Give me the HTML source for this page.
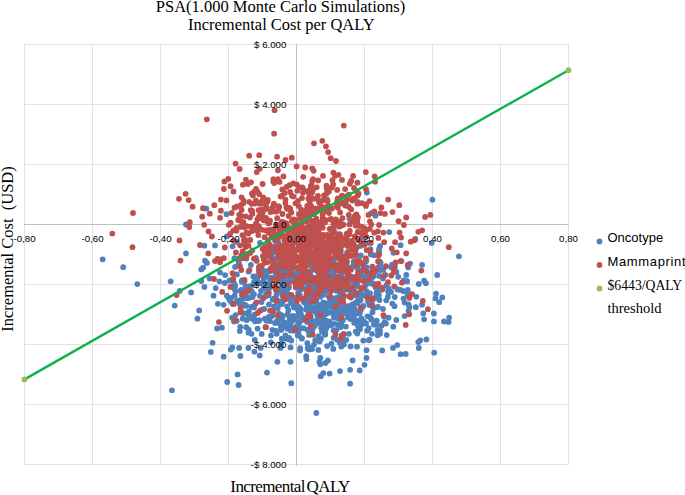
<!DOCTYPE html>
<html><head><meta charset="utf-8"><title>PSA Incremental Cost per QALY</title>
<style>html,body{margin:0;padding:0;background:#fff}svg{display:block}</style></head>
<body><svg width="685" height="495" viewBox="0 0 685 495">
<rect width="685" height="495" fill="#fff"/>
<g stroke="#e1e1e1" stroke-width="1" shape-rendering="crispEdges"><line x1="24.5" y1="44" x2="24.5" y2="465"/><line x1="92.5" y1="44" x2="92.5" y2="465"/><line x1="160.5" y1="44" x2="160.5" y2="465"/><line x1="228.5" y1="44" x2="228.5" y2="465"/><line x1="364.5" y1="44" x2="364.5" y2="465"/><line x1="432.5" y1="44" x2="432.5" y2="465"/><line x1="500.5" y1="44" x2="500.5" y2="465"/><line x1="568.5" y1="44" x2="568.5" y2="465"/><line x1="24" y1="44.5" x2="569" y2="44.5"/><line x1="24" y1="104.5" x2="569" y2="104.5"/><line x1="24" y1="164.5" x2="569" y2="164.5"/><line x1="24" y1="284.5" x2="569" y2="284.5"/><line x1="24" y1="344.5" x2="569" y2="344.5"/><line x1="24" y1="404.5" x2="569" y2="404.5"/><line x1="24" y1="464.5" x2="569" y2="464.5"/></g>
<g stroke="#c0c0c0" stroke-width="1" shape-rendering="crispEdges"><line x1="296.5" y1="44" x2="296.5" y2="466"/><line x1="24" y1="224.5" x2="569" y2="224.5"/></g>
<g fill="#4f81bd"><circle cx="257.8" cy="281.8" r="2.9"/><circle cx="266.4" cy="320.7" r="2.9"/><circle cx="368.0" cy="276.0" r="2.9"/><circle cx="293.2" cy="304.6" r="2.9"/><circle cx="326.2" cy="310.1" r="2.9"/><circle cx="248.9" cy="311.6" r="2.9"/><circle cx="278.8" cy="315.4" r="2.9"/><circle cx="338.6" cy="282.7" r="2.9"/><circle cx="351.4" cy="267.1" r="2.9"/><circle cx="282.8" cy="286.3" r="2.9"/><circle cx="280.7" cy="291.0" r="2.9"/><circle cx="276.1" cy="276.8" r="2.9"/><circle cx="312.4" cy="321.4" r="2.9"/><circle cx="302.5" cy="238.0" r="2.9"/><circle cx="407.1" cy="281.4" r="2.9"/><circle cx="248.4" cy="286.4" r="2.9"/><circle cx="321.4" cy="309.8" r="2.9"/><circle cx="371.5" cy="276.9" r="2.9"/><circle cx="240.2" cy="326.8" r="2.9"/><circle cx="309.1" cy="334.9" r="2.9"/><circle cx="354.6" cy="265.8" r="2.9"/><circle cx="318.1" cy="317.5" r="2.9"/><circle cx="360.4" cy="300.2" r="2.9"/><circle cx="292.1" cy="237.5" r="2.9"/><circle cx="307.8" cy="303.3" r="2.9"/><circle cx="343.1" cy="278.8" r="2.9"/><circle cx="280.0" cy="290.6" r="2.9"/><circle cx="266.0" cy="294.3" r="2.9"/><circle cx="281.9" cy="269.2" r="2.9"/><circle cx="404.6" cy="302.6" r="2.9"/><circle cx="357.1" cy="301.4" r="2.9"/><circle cx="321.0" cy="338.8" r="2.9"/><circle cx="323.2" cy="302.5" r="2.9"/><circle cx="357.9" cy="303.1" r="2.9"/><circle cx="235.6" cy="291.1" r="2.9"/><circle cx="230.2" cy="280.4" r="2.9"/><circle cx="339.0" cy="251.0" r="2.9"/><circle cx="334.7" cy="252.3" r="2.9"/><circle cx="355.0" cy="276.8" r="2.9"/><circle cx="282.9" cy="283.8" r="2.9"/><circle cx="277.4" cy="271.2" r="2.9"/><circle cx="327.5" cy="265.3" r="2.9"/><circle cx="333.0" cy="275.1" r="2.9"/><circle cx="295.8" cy="287.5" r="2.9"/><circle cx="325.2" cy="314.5" r="2.9"/><circle cx="251.5" cy="333.8" r="2.9"/><circle cx="287.0" cy="270.0" r="2.9"/><circle cx="336.5" cy="307.5" r="2.9"/><circle cx="339.3" cy="312.5" r="2.9"/><circle cx="332.4" cy="307.3" r="2.9"/><circle cx="377.3" cy="296.9" r="2.9"/><circle cx="330.7" cy="324.7" r="2.9"/><circle cx="324.3" cy="322.7" r="2.9"/><circle cx="321.6" cy="235.3" r="2.9"/><circle cx="285.1" cy="322.3" r="2.9"/><circle cx="400.7" cy="289.9" r="2.9"/><circle cx="352.9" cy="295.6" r="2.9"/><circle cx="303.7" cy="272.5" r="2.9"/><circle cx="278.0" cy="241.4" r="2.9"/><circle cx="376.7" cy="320.7" r="2.9"/><circle cx="357.6" cy="331.5" r="2.9"/><circle cx="308.1" cy="281.0" r="2.9"/><circle cx="297.4" cy="306.8" r="2.9"/><circle cx="355.3" cy="320.3" r="2.9"/><circle cx="268.8" cy="316.9" r="2.9"/><circle cx="291.2" cy="340.5" r="2.9"/><circle cx="358.1" cy="321.9" r="2.9"/><circle cx="275.1" cy="246.3" r="2.9"/><circle cx="307.2" cy="306.5" r="2.9"/><circle cx="363.3" cy="340.6" r="2.9"/><circle cx="379.5" cy="300.1" r="2.9"/><circle cx="235.2" cy="285.7" r="2.9"/><circle cx="328.8" cy="296.7" r="2.9"/><circle cx="337.2" cy="339.8" r="2.9"/><circle cx="287.3" cy="328.8" r="2.9"/><circle cx="288.4" cy="310.5" r="2.9"/><circle cx="299.9" cy="327.8" r="2.9"/><circle cx="339.9" cy="284.7" r="2.9"/><circle cx="291.3" cy="271.8" r="2.9"/><circle cx="341.3" cy="275.2" r="2.9"/><circle cx="357.3" cy="313.6" r="2.9"/><circle cx="271.1" cy="277.7" r="2.9"/><circle cx="317.6" cy="316.1" r="2.9"/><circle cx="307.1" cy="322.0" r="2.9"/><circle cx="312.5" cy="282.4" r="2.9"/><circle cx="274.0" cy="306.4" r="2.9"/><circle cx="315.4" cy="301.7" r="2.9"/><circle cx="270.0" cy="278.9" r="2.9"/><circle cx="287.2" cy="306.4" r="2.9"/><circle cx="258.4" cy="321.0" r="2.9"/><circle cx="324.9" cy="334.4" r="2.9"/><circle cx="265.5" cy="327.2" r="2.9"/><circle cx="339.8" cy="342.7" r="2.9"/><circle cx="266.8" cy="285.6" r="2.9"/><circle cx="304.6" cy="255.4" r="2.9"/><circle cx="310.8" cy="307.1" r="2.9"/><circle cx="374.7" cy="307.8" r="2.9"/><circle cx="403.5" cy="298.6" r="2.9"/><circle cx="371.1" cy="272.6" r="2.9"/><circle cx="337.6" cy="315.9" r="2.9"/><circle cx="287.0" cy="276.9" r="2.9"/><circle cx="348.9" cy="315.0" r="2.9"/><circle cx="308.3" cy="330.0" r="2.9"/><circle cx="263.8" cy="287.2" r="2.9"/><circle cx="307.6" cy="330.1" r="2.9"/><circle cx="366.1" cy="323.4" r="2.9"/><circle cx="325.6" cy="321.5" r="2.9"/><circle cx="323.4" cy="290.2" r="2.9"/><circle cx="293.8" cy="330.8" r="2.9"/><circle cx="271.0" cy="335.6" r="2.9"/><circle cx="396.4" cy="272.0" r="2.9"/><circle cx="325.4" cy="330.6" r="2.9"/><circle cx="286.1" cy="276.0" r="2.9"/><circle cx="375.2" cy="271.6" r="2.9"/><circle cx="246.8" cy="288.3" r="2.9"/><circle cx="244.4" cy="298.0" r="2.9"/><circle cx="386.5" cy="285.2" r="2.9"/><circle cx="322.3" cy="293.9" r="2.9"/><circle cx="272.6" cy="299.7" r="2.9"/><circle cx="251.9" cy="291.7" r="2.9"/><circle cx="393.3" cy="326.7" r="2.9"/><circle cx="336.1" cy="247.4" r="2.9"/><circle cx="384.5" cy="322.4" r="2.9"/><circle cx="306.8" cy="306.1" r="2.9"/><circle cx="283.1" cy="274.5" r="2.9"/><circle cx="282.8" cy="296.0" r="2.9"/><circle cx="251.0" cy="290.8" r="2.9"/><circle cx="317.3" cy="271.2" r="2.9"/><circle cx="403.8" cy="280.4" r="2.9"/><circle cx="359.8" cy="313.0" r="2.9"/><circle cx="385.3" cy="274.8" r="2.9"/><circle cx="361.1" cy="275.0" r="2.9"/><circle cx="330.8" cy="306.2" r="2.9"/><circle cx="278.5" cy="264.0" r="2.9"/><circle cx="264.2" cy="271.7" r="2.9"/><circle cx="275.9" cy="274.7" r="2.9"/><circle cx="323.8" cy="319.7" r="2.9"/><circle cx="318.6" cy="267.1" r="2.9"/><circle cx="373.1" cy="269.9" r="2.9"/><circle cx="321.1" cy="310.4" r="2.9"/><circle cx="334.8" cy="258.3" r="2.9"/><circle cx="281.8" cy="261.2" r="2.9"/><circle cx="379.5" cy="261.3" r="2.9"/><circle cx="367.7" cy="316.3" r="2.9"/><circle cx="302.3" cy="261.1" r="2.9"/><circle cx="357.6" cy="322.5" r="2.9"/><circle cx="339.7" cy="308.2" r="2.9"/><circle cx="276.5" cy="294.9" r="2.9"/><circle cx="297.8" cy="309.5" r="2.9"/><circle cx="283.9" cy="281.8" r="2.9"/><circle cx="326.3" cy="320.7" r="2.9"/><circle cx="292.5" cy="246.0" r="2.9"/><circle cx="315.9" cy="262.3" r="2.9"/><circle cx="318.4" cy="283.2" r="2.9"/><circle cx="320.3" cy="247.1" r="2.9"/><circle cx="324.3" cy="309.1" r="2.9"/><circle cx="363.9" cy="244.7" r="2.9"/><circle cx="266.8" cy="276.1" r="2.9"/><circle cx="319.2" cy="258.3" r="2.9"/><circle cx="299.0" cy="276.1" r="2.9"/><circle cx="276.7" cy="333.8" r="2.9"/><circle cx="326.7" cy="266.6" r="2.9"/><circle cx="376.4" cy="293.1" r="2.9"/><circle cx="296.7" cy="260.0" r="2.9"/><circle cx="335.9" cy="290.5" r="2.9"/><circle cx="257.5" cy="283.1" r="2.9"/><circle cx="245.4" cy="286.7" r="2.9"/><circle cx="392.3" cy="303.6" r="2.9"/><circle cx="283.4" cy="290.7" r="2.9"/><circle cx="319.9" cy="338.4" r="2.9"/><circle cx="379.1" cy="275.9" r="2.9"/><circle cx="331.7" cy="247.8" r="2.9"/><circle cx="382.6" cy="289.3" r="2.9"/><circle cx="317.7" cy="306.4" r="2.9"/><circle cx="287.2" cy="282.1" r="2.9"/><circle cx="295.7" cy="257.0" r="2.9"/><circle cx="333.7" cy="330.5" r="2.9"/><circle cx="357.0" cy="346.7" r="2.9"/><circle cx="325.2" cy="246.9" r="2.9"/><circle cx="346.2" cy="264.1" r="2.9"/><circle cx="334.0" cy="317.7" r="2.9"/><circle cx="313.7" cy="301.1" r="2.9"/><circle cx="371.4" cy="319.7" r="2.9"/><circle cx="327.8" cy="264.0" r="2.9"/><circle cx="249.9" cy="297.5" r="2.9"/><circle cx="313.1" cy="321.1" r="2.9"/><circle cx="340.2" cy="234.4" r="2.9"/><circle cx="261.7" cy="333.9" r="2.9"/><circle cx="275.8" cy="299.2" r="2.9"/><circle cx="246.2" cy="305.9" r="2.9"/><circle cx="340.8" cy="327.0" r="2.9"/><circle cx="253.8" cy="283.5" r="2.9"/><circle cx="308.8" cy="311.0" r="2.9"/><circle cx="276.6" cy="258.2" r="2.9"/><circle cx="260.7" cy="269.0" r="2.9"/><circle cx="299.0" cy="335.6" r="2.9"/><circle cx="272.7" cy="315.5" r="2.9"/><circle cx="234.3" cy="288.5" r="2.9"/><circle cx="338.0" cy="287.5" r="2.9"/><circle cx="368.1" cy="301.8" r="2.9"/><circle cx="369.3" cy="305.1" r="2.9"/><circle cx="342.9" cy="294.0" r="2.9"/><circle cx="264.9" cy="318.7" r="2.9"/><circle cx="335.8" cy="301.7" r="2.9"/><circle cx="359.5" cy="292.8" r="2.9"/><circle cx="347.2" cy="276.8" r="2.9"/><circle cx="386.7" cy="335.1" r="2.9"/><circle cx="248.5" cy="332.7" r="2.9"/><circle cx="277.0" cy="320.9" r="2.9"/><circle cx="279.7" cy="317.1" r="2.9"/><circle cx="339.6" cy="283.2" r="2.9"/><circle cx="356.6" cy="267.1" r="2.9"/><circle cx="262.2" cy="273.8" r="2.9"/><circle cx="313.6" cy="309.0" r="2.9"/><circle cx="293.3" cy="298.2" r="2.9"/><circle cx="281.2" cy="343.7" r="2.9"/><circle cx="327.0" cy="303.2" r="2.9"/><circle cx="299.1" cy="271.3" r="2.9"/><circle cx="315.2" cy="324.9" r="2.9"/><circle cx="297.6" cy="272.6" r="2.9"/><circle cx="284.3" cy="269.9" r="2.9"/><circle cx="310.3" cy="278.7" r="2.9"/><circle cx="339.8" cy="241.4" r="2.9"/><circle cx="372.5" cy="312.2" r="2.9"/><circle cx="375.6" cy="287.5" r="2.9"/><circle cx="339.9" cy="296.2" r="2.9"/><circle cx="308.8" cy="234.1" r="2.9"/><circle cx="358.7" cy="260.7" r="2.9"/><circle cx="324.3" cy="331.7" r="2.9"/><circle cx="329.4" cy="270.7" r="2.9"/><circle cx="336.2" cy="310.2" r="2.9"/><circle cx="297.3" cy="275.8" r="2.9"/><circle cx="317.3" cy="307.2" r="2.9"/><circle cx="313.2" cy="289.7" r="2.9"/><circle cx="343.9" cy="344.5" r="2.9"/><circle cx="293.2" cy="297.5" r="2.9"/><circle cx="319.3" cy="304.8" r="2.9"/><circle cx="365.9" cy="261.6" r="2.9"/><circle cx="340.3" cy="292.4" r="2.9"/><circle cx="339.7" cy="288.9" r="2.9"/><circle cx="320.8" cy="319.6" r="2.9"/><circle cx="311.0" cy="306.0" r="2.9"/><circle cx="367.2" cy="330.7" r="2.9"/><circle cx="373.9" cy="324.5" r="2.9"/><circle cx="342.1" cy="311.0" r="2.9"/><circle cx="321.5" cy="274.7" r="2.9"/><circle cx="312.6" cy="234.7" r="2.9"/><circle cx="378.0" cy="267.7" r="2.9"/><circle cx="316.3" cy="300.6" r="2.9"/><circle cx="375.9" cy="296.8" r="2.9"/><circle cx="264.2" cy="308.9" r="2.9"/><circle cx="234.7" cy="295.7" r="2.9"/><circle cx="330.9" cy="269.1" r="2.9"/><circle cx="370.0" cy="293.5" r="2.9"/><circle cx="355.3" cy="320.2" r="2.9"/><circle cx="232.5" cy="303.8" r="2.9"/><circle cx="312.2" cy="266.9" r="2.9"/><circle cx="340.2" cy="271.5" r="2.9"/><circle cx="363.8" cy="322.3" r="2.9"/><circle cx="289.2" cy="338.0" r="2.9"/><circle cx="326.8" cy="327.2" r="2.9"/><circle cx="259.9" cy="295.9" r="2.9"/><circle cx="268.2" cy="289.1" r="2.9"/><circle cx="360.4" cy="294.7" r="2.9"/><circle cx="300.3" cy="308.8" r="2.9"/><circle cx="307.9" cy="315.4" r="2.9"/><circle cx="305.1" cy="263.7" r="2.9"/><circle cx="331.1" cy="325.3" r="2.9"/><circle cx="340.8" cy="250.4" r="2.9"/><circle cx="240.4" cy="299.8" r="2.9"/><circle cx="276.0" cy="331.0" r="2.9"/><circle cx="242.0" cy="280.5" r="2.9"/><circle cx="374.7" cy="270.0" r="2.9"/><circle cx="329.8" cy="306.3" r="2.9"/><circle cx="313.6" cy="283.2" r="2.9"/><circle cx="284.3" cy="338.6" r="2.9"/><circle cx="291.2" cy="262.2" r="2.9"/><circle cx="307.3" cy="343.1" r="2.9"/><circle cx="328.7" cy="312.8" r="2.9"/><circle cx="314.0" cy="344.6" r="2.9"/><circle cx="301.9" cy="298.5" r="2.9"/><circle cx="256.3" cy="278.4" r="2.9"/><circle cx="276.8" cy="293.8" r="2.9"/><circle cx="292.9" cy="318.8" r="2.9"/><circle cx="361.3" cy="318.4" r="2.9"/><circle cx="372.9" cy="299.7" r="2.9"/><circle cx="369.5" cy="339.7" r="2.9"/><circle cx="304.0" cy="256.8" r="2.9"/><circle cx="307.4" cy="282.5" r="2.9"/><circle cx="297.8" cy="335.4" r="2.9"/><circle cx="282.2" cy="269.4" r="2.9"/><circle cx="313.5" cy="321.7" r="2.9"/><circle cx="370.8" cy="276.4" r="2.9"/><circle cx="332.4" cy="232.8" r="2.9"/><circle cx="261.3" cy="283.2" r="2.9"/><circle cx="252.0" cy="285.7" r="2.9"/><circle cx="292.6" cy="320.6" r="2.9"/><circle cx="319.6" cy="264.2" r="2.9"/><circle cx="377.3" cy="291.4" r="2.9"/><circle cx="324.2" cy="262.4" r="2.9"/><circle cx="253.9" cy="294.1" r="2.9"/><circle cx="311.8" cy="265.4" r="2.9"/><circle cx="384.0" cy="316.8" r="2.9"/><circle cx="253.4" cy="316.5" r="2.9"/><circle cx="286.3" cy="288.2" r="2.9"/><circle cx="238.6" cy="301.5" r="2.9"/><circle cx="323.4" cy="294.8" r="2.9"/><circle cx="268.5" cy="295.2" r="2.9"/><circle cx="317.5" cy="290.6" r="2.9"/><circle cx="357.5" cy="260.2" r="2.9"/><circle cx="373.6" cy="275.9" r="2.9"/><circle cx="306.1" cy="246.1" r="2.9"/><circle cx="304.3" cy="232.9" r="2.9"/><circle cx="388.2" cy="291.6" r="2.9"/><circle cx="312.0" cy="280.3" r="2.9"/><circle cx="249.9" cy="318.1" r="2.9"/><circle cx="348.0" cy="317.4" r="2.9"/><circle cx="298.9" cy="248.0" r="2.9"/><circle cx="343.0" cy="299.1" r="2.9"/><circle cx="275.0" cy="323.1" r="2.9"/><circle cx="373.7" cy="283.6" r="2.9"/><circle cx="331.7" cy="263.8" r="2.9"/><circle cx="380.4" cy="265.3" r="2.9"/><circle cx="285.1" cy="289.2" r="2.9"/><circle cx="278.5" cy="246.4" r="2.9"/><circle cx="288.9" cy="323.5" r="2.9"/><circle cx="291.7" cy="321.0" r="2.9"/><circle cx="312.3" cy="278.1" r="2.9"/><circle cx="308.3" cy="300.9" r="2.9"/><circle cx="269.5" cy="271.2" r="2.9"/><circle cx="299.8" cy="273.9" r="2.9"/><circle cx="332.0" cy="266.8" r="2.9"/><circle cx="333.0" cy="262.5" r="2.9"/><circle cx="338.0" cy="324.5" r="2.9"/><circle cx="357.3" cy="333.6" r="2.9"/><circle cx="283.4" cy="300.2" r="2.9"/><circle cx="328.2" cy="258.9" r="2.9"/><circle cx="357.1" cy="295.8" r="2.9"/><circle cx="333.6" cy="248.9" r="2.9"/><circle cx="299.7" cy="295.1" r="2.9"/><circle cx="309.7" cy="314.4" r="2.9"/><circle cx="293.3" cy="279.2" r="2.9"/><circle cx="305.7" cy="251.4" r="2.9"/><circle cx="312.5" cy="297.5" r="2.9"/><circle cx="320.0" cy="281.4" r="2.9"/><circle cx="340.5" cy="293.3" r="2.9"/><circle cx="337.6" cy="297.7" r="2.9"/><circle cx="283.1" cy="254.7" r="2.9"/><circle cx="322.6" cy="275.1" r="2.9"/><circle cx="291.4" cy="276.1" r="2.9"/><circle cx="366.5" cy="291.2" r="2.9"/><circle cx="270.0" cy="321.2" r="2.9"/><circle cx="305.7" cy="288.9" r="2.9"/><circle cx="332.0" cy="261.0" r="2.9"/><circle cx="346.2" cy="310.7" r="2.9"/><circle cx="297.7" cy="276.4" r="2.9"/><circle cx="343.5" cy="288.5" r="2.9"/><circle cx="353.8" cy="261.4" r="2.9"/><circle cx="378.2" cy="297.9" r="2.9"/><circle cx="327.7" cy="275.9" r="2.9"/><circle cx="270.1" cy="287.4" r="2.9"/><circle cx="318.0" cy="263.6" r="2.9"/><circle cx="381.7" cy="325.5" r="2.9"/><circle cx="278.8" cy="323.1" r="2.9"/><circle cx="358.1" cy="286.3" r="2.9"/><circle cx="299.4" cy="322.6" r="2.9"/><circle cx="354.2" cy="322.8" r="2.9"/><circle cx="373.8" cy="255.2" r="2.9"/><circle cx="256.0" cy="258.0" r="2.9"/><circle cx="325.3" cy="334.6" r="2.9"/><circle cx="271.3" cy="280.5" r="2.9"/><circle cx="324.3" cy="273.8" r="2.9"/><circle cx="346.8" cy="289.5" r="2.9"/><circle cx="257.6" cy="328.7" r="2.9"/><circle cx="319.9" cy="323.1" r="2.9"/><circle cx="363.3" cy="295.6" r="2.9"/><circle cx="257.3" cy="280.2" r="2.9"/><circle cx="342.1" cy="285.4" r="2.9"/><circle cx="298.5" cy="244.0" r="2.9"/><circle cx="326.4" cy="285.4" r="2.9"/><circle cx="363.7" cy="321.5" r="2.9"/><circle cx="348.8" cy="244.2" r="2.9"/><circle cx="288.9" cy="266.1" r="2.9"/><circle cx="311.2" cy="324.1" r="2.9"/><circle cx="333.9" cy="314.5" r="2.9"/><circle cx="296.0" cy="298.7" r="2.9"/><circle cx="288.1" cy="339.2" r="2.9"/><circle cx="341.4" cy="271.2" r="2.9"/><circle cx="354.4" cy="291.4" r="2.9"/><circle cx="335.7" cy="258.4" r="2.9"/><circle cx="324.6" cy="286.7" r="2.9"/><circle cx="330.0" cy="265.2" r="2.9"/><circle cx="359.2" cy="273.4" r="2.9"/><circle cx="334.0" cy="230.4" r="2.9"/><circle cx="354.6" cy="308.7" r="2.9"/><circle cx="299.7" cy="308.0" r="2.9"/><circle cx="303.3" cy="252.5" r="2.9"/><circle cx="276.9" cy="289.4" r="2.9"/><circle cx="290.5" cy="323.1" r="2.9"/><circle cx="318.1" cy="268.8" r="2.9"/><circle cx="301.6" cy="277.5" r="2.9"/><circle cx="302.2" cy="320.0" r="2.9"/><circle cx="303.1" cy="317.7" r="2.9"/><circle cx="340.4" cy="251.7" r="2.9"/><circle cx="306.7" cy="299.8" r="2.9"/><circle cx="313.7" cy="237.8" r="2.9"/><circle cx="323.7" cy="263.6" r="2.9"/><circle cx="371.8" cy="278.0" r="2.9"/><circle cx="355.4" cy="282.7" r="2.9"/><circle cx="370.6" cy="254.3" r="2.9"/><circle cx="271.6" cy="267.9" r="2.9"/><circle cx="360.8" cy="309.7" r="2.9"/><circle cx="304.0" cy="302.3" r="2.9"/><circle cx="320.3" cy="271.4" r="2.9"/><circle cx="330.1" cy="259.6" r="2.9"/><circle cx="235.6" cy="315.1" r="2.9"/><circle cx="310.8" cy="271.0" r="2.9"/><circle cx="238.6" cy="261.4" r="2.9"/><circle cx="315.0" cy="279.8" r="2.9"/><circle cx="281.3" cy="280.5" r="2.9"/><circle cx="258.9" cy="266.9" r="2.9"/><circle cx="280.9" cy="346.7" r="2.9"/><circle cx="243.9" cy="313.2" r="2.9"/><circle cx="377.8" cy="286.8" r="2.9"/><circle cx="315.1" cy="247.0" r="2.9"/><circle cx="307.6" cy="300.1" r="2.9"/><circle cx="354.1" cy="265.6" r="2.9"/><circle cx="301.3" cy="315.4" r="2.9"/><circle cx="282.3" cy="301.8" r="2.9"/><circle cx="330.1" cy="298.7" r="2.9"/><circle cx="363.3" cy="306.0" r="2.9"/><circle cx="397.5" cy="289.1" r="2.9"/><circle cx="392.1" cy="264.7" r="2.9"/><circle cx="361.4" cy="295.7" r="2.9"/><circle cx="328.1" cy="270.4" r="2.9"/><circle cx="296.7" cy="327.2" r="2.9"/><circle cx="287.6" cy="314.2" r="2.9"/><circle cx="337.8" cy="318.5" r="2.9"/><circle cx="352.5" cy="311.4" r="2.9"/><circle cx="350.8" cy="276.3" r="2.9"/><circle cx="276.4" cy="269.0" r="2.9"/><circle cx="325.2" cy="264.0" r="2.9"/><circle cx="334.0" cy="241.3" r="2.9"/><circle cx="246.2" cy="292.8" r="2.9"/><circle cx="300.4" cy="313.1" r="2.9"/><circle cx="387.9" cy="296.7" r="2.9"/><circle cx="314.0" cy="326.8" r="2.9"/><circle cx="338.4" cy="280.6" r="2.9"/><circle cx="296.9" cy="249.4" r="2.9"/><circle cx="294.2" cy="240.8" r="2.9"/><circle cx="371.2" cy="272.2" r="2.9"/><circle cx="391.0" cy="292.0" r="2.9"/><circle cx="316.5" cy="245.7" r="2.9"/><circle cx="315.4" cy="309.6" r="2.9"/><circle cx="293.6" cy="320.0" r="2.9"/><circle cx="298.2" cy="292.9" r="2.9"/><circle cx="337.0" cy="290.7" r="2.9"/><circle cx="355.7" cy="331.6" r="2.9"/><circle cx="366.2" cy="260.2" r="2.9"/><circle cx="354.1" cy="315.0" r="2.9"/><circle cx="255.8" cy="320.1" r="2.9"/><circle cx="319.3" cy="258.0" r="2.9"/><circle cx="348.3" cy="272.9" r="2.9"/><circle cx="318.5" cy="336.3" r="2.9"/><circle cx="293.7" cy="262.4" r="2.9"/><circle cx="372.7" cy="307.0" r="2.9"/><circle cx="315.8" cy="312.2" r="2.9"/><circle cx="258.7" cy="267.9" r="2.9"/><circle cx="252.6" cy="297.0" r="2.9"/><circle cx="332.0" cy="301.5" r="2.9"/><circle cx="308.8" cy="254.4" r="2.9"/><circle cx="270.6" cy="316.6" r="2.9"/><circle cx="352.5" cy="289.2" r="2.9"/><circle cx="324.7" cy="262.4" r="2.9"/><circle cx="290.1" cy="298.0" r="2.9"/><circle cx="280.0" cy="259.1" r="2.9"/><circle cx="336.5" cy="329.8" r="2.9"/><circle cx="298.6" cy="310.8" r="2.9"/><circle cx="282.9" cy="294.1" r="2.9"/><circle cx="312.3" cy="330.3" r="2.9"/><circle cx="341.1" cy="246.4" r="2.9"/><circle cx="317.7" cy="251.4" r="2.9"/><circle cx="244.3" cy="294.1" r="2.9"/><circle cx="345.9" cy="326.6" r="2.9"/><circle cx="360.1" cy="329.1" r="2.9"/><circle cx="311.5" cy="284.3" r="2.9"/><circle cx="341.7" cy="335.3" r="2.9"/><circle cx="368.9" cy="282.0" r="2.9"/><circle cx="281.8" cy="338.6" r="2.9"/><circle cx="306.3" cy="289.4" r="2.9"/><circle cx="342.1" cy="261.9" r="2.9"/><circle cx="325.6" cy="270.8" r="2.9"/><circle cx="246.0" cy="288.1" r="2.9"/><circle cx="281.3" cy="329.9" r="2.9"/><circle cx="313.5" cy="262.6" r="2.9"/><circle cx="379.0" cy="268.5" r="2.9"/><circle cx="297.2" cy="316.7" r="2.9"/><circle cx="321.8" cy="294.2" r="2.9"/><circle cx="338.0" cy="309.9" r="2.9"/><circle cx="324.4" cy="261.7" r="2.9"/><circle cx="367.3" cy="295.7" r="2.9"/><circle cx="350.2" cy="280.6" r="2.9"/><circle cx="350.5" cy="319.1" r="2.9"/><circle cx="309.3" cy="349.4" r="2.9"/><circle cx="298.0" cy="306.2" r="2.9"/><circle cx="268.7" cy="283.9" r="2.9"/><circle cx="324.8" cy="262.4" r="2.9"/><circle cx="340.7" cy="319.2" r="2.9"/><circle cx="377.9" cy="290.0" r="2.9"/><circle cx="337.4" cy="285.0" r="2.9"/><circle cx="366.9" cy="267.3" r="2.9"/><circle cx="354.3" cy="294.2" r="2.9"/><circle cx="351.6" cy="309.3" r="2.9"/><circle cx="370.4" cy="249.2" r="2.9"/><circle cx="244.4" cy="281.5" r="2.9"/><circle cx="397.8" cy="289.7" r="2.9"/><circle cx="367.3" cy="272.5" r="2.9"/><circle cx="310.2" cy="271.8" r="2.9"/><circle cx="329.5" cy="321.7" r="2.9"/><circle cx="334.0" cy="276.0" r="2.9"/><circle cx="353.8" cy="262.5" r="2.9"/><circle cx="306.4" cy="304.3" r="2.9"/><circle cx="287.0" cy="290.5" r="2.9"/><circle cx="301.8" cy="338.2" r="2.9"/><circle cx="353.5" cy="284.9" r="2.9"/><circle cx="325.8" cy="291.4" r="2.9"/><circle cx="352.3" cy="307.8" r="2.9"/><circle cx="250.9" cy="264.9" r="2.9"/><circle cx="331.6" cy="286.0" r="2.9"/><circle cx="273.2" cy="248.6" r="2.9"/><circle cx="332.2" cy="277.0" r="2.9"/><circle cx="371.9" cy="283.8" r="2.9"/><circle cx="277.8" cy="272.7" r="2.9"/><circle cx="253.2" cy="319.2" r="2.9"/><circle cx="396.3" cy="320.0" r="2.9"/><circle cx="317.9" cy="258.9" r="2.9"/><circle cx="318.5" cy="318.4" r="2.9"/><circle cx="322.4" cy="313.8" r="2.9"/><circle cx="325.6" cy="324.0" r="2.9"/><circle cx="298.6" cy="321.9" r="2.9"/><circle cx="368.7" cy="328.1" r="2.9"/><circle cx="314.0" cy="268.9" r="2.9"/><circle cx="333.8" cy="242.3" r="2.9"/><circle cx="278.4" cy="301.5" r="2.9"/><circle cx="291.0" cy="302.5" r="2.9"/><circle cx="316.2" cy="238.0" r="2.9"/><circle cx="263.7" cy="272.1" r="2.9"/><circle cx="300.2" cy="312.5" r="2.9"/><circle cx="337.8" cy="276.9" r="2.9"/><circle cx="339.2" cy="240.7" r="2.9"/><circle cx="332.6" cy="276.7" r="2.9"/><circle cx="276.3" cy="290.3" r="2.9"/><circle cx="298.6" cy="330.9" r="2.9"/><circle cx="281.6" cy="315.2" r="2.9"/><circle cx="325.4" cy="305.6" r="2.9"/><circle cx="312.2" cy="255.4" r="2.9"/><circle cx="301.1" cy="250.5" r="2.9"/><circle cx="381.1" cy="289.9" r="2.9"/><circle cx="272.7" cy="252.6" r="2.9"/><circle cx="354.9" cy="303.3" r="2.9"/><circle cx="289.0" cy="287.6" r="2.9"/><circle cx="357.1" cy="262.3" r="2.9"/><circle cx="364.0" cy="276.9" r="2.9"/><circle cx="350.9" cy="311.0" r="2.9"/><circle cx="357.3" cy="266.9" r="2.9"/><circle cx="383.4" cy="269.9" r="2.9"/><circle cx="341.1" cy="271.9" r="2.9"/><circle cx="380.0" cy="333.7" r="2.9"/><circle cx="305.7" cy="230.2" r="2.9"/><circle cx="273.0" cy="252.6" r="2.9"/><circle cx="369.8" cy="316.8" r="2.9"/><circle cx="241.2" cy="289.9" r="2.9"/><circle cx="289.8" cy="268.5" r="2.9"/><circle cx="358.1" cy="326.2" r="2.9"/><circle cx="285.4" cy="335.4" r="2.9"/><circle cx="321.9" cy="272.4" r="2.9"/><circle cx="360.7" cy="245.9" r="2.9"/><circle cx="283.9" cy="276.6" r="2.9"/><circle cx="314.8" cy="259.9" r="2.9"/><circle cx="368.9" cy="282.1" r="2.9"/><circle cx="287.2" cy="297.2" r="2.9"/><circle cx="320.0" cy="238.8" r="2.9"/><circle cx="307.5" cy="260.7" r="2.9"/><circle cx="295.0" cy="306.3" r="2.9"/><circle cx="315.0" cy="307.2" r="2.9"/><circle cx="322.3" cy="253.6" r="2.9"/><circle cx="357.4" cy="281.2" r="2.9"/><circle cx="301.8" cy="338.6" r="2.9"/><circle cx="322.5" cy="259.2" r="2.9"/><circle cx="341.4" cy="301.4" r="2.9"/><circle cx="333.9" cy="323.8" r="2.9"/><circle cx="275.3" cy="298.3" r="2.9"/><circle cx="282.3" cy="326.3" r="2.9"/><circle cx="314.8" cy="287.3" r="2.9"/><circle cx="272.4" cy="329.9" r="2.9"/><circle cx="347.0" cy="282.7" r="2.9"/><circle cx="408.5" cy="304.4" r="2.9"/><circle cx="315.3" cy="340.2" r="2.9"/><circle cx="254.5" cy="314.7" r="2.9"/><circle cx="320.2" cy="269.4" r="2.9"/><circle cx="330.6" cy="302.2" r="2.9"/><circle cx="352.3" cy="304.3" r="2.9"/><circle cx="307.7" cy="291.6" r="2.9"/><circle cx="341.2" cy="274.5" r="2.9"/><circle cx="293.0" cy="249.6" r="2.9"/><circle cx="277.1" cy="302.0" r="2.9"/><circle cx="382.9" cy="278.6" r="2.9"/><circle cx="296.8" cy="316.0" r="2.9"/><circle cx="324.6" cy="285.1" r="2.9"/><circle cx="236.7" cy="320.9" r="2.9"/><circle cx="269.8" cy="269.8" r="2.9"/><circle cx="284.1" cy="323.2" r="2.9"/><circle cx="272.1" cy="270.1" r="2.9"/><circle cx="273.7" cy="298.6" r="2.9"/><circle cx="279.6" cy="301.5" r="2.9"/><circle cx="343.2" cy="338.4" r="2.9"/><circle cx="267.2" cy="284.2" r="2.9"/><circle cx="324.4" cy="331.9" r="2.9"/><circle cx="310.6" cy="292.9" r="2.9"/><circle cx="254.2" cy="281.9" r="2.9"/><circle cx="320.4" cy="296.8" r="2.9"/><circle cx="338.8" cy="315.1" r="2.9"/><circle cx="408.5" cy="311.1" r="2.9"/><circle cx="307.9" cy="290.0" r="2.9"/><circle cx="309.4" cy="236.1" r="2.9"/><circle cx="281.8" cy="318.6" r="2.9"/><circle cx="368.7" cy="293.3" r="2.9"/><circle cx="339.0" cy="303.1" r="2.9"/><circle cx="242.8" cy="303.9" r="2.9"/><circle cx="281.9" cy="304.1" r="2.9"/><circle cx="394.8" cy="266.6" r="2.9"/><circle cx="380.2" cy="265.8" r="2.9"/><circle cx="294.5" cy="273.8" r="2.9"/><circle cx="386.3" cy="300.3" r="2.9"/><circle cx="262.2" cy="309.6" r="2.9"/><circle cx="319.4" cy="281.5" r="2.9"/><circle cx="294.5" cy="307.5" r="2.9"/><circle cx="273.9" cy="278.4" r="2.9"/><circle cx="318.5" cy="268.9" r="2.9"/><circle cx="376.8" cy="324.9" r="2.9"/><circle cx="326.5" cy="288.5" r="2.9"/><circle cx="342.9" cy="320.2" r="2.9"/><circle cx="278.9" cy="313.6" r="2.9"/><circle cx="294.7" cy="256.0" r="2.9"/><circle cx="285.3" cy="274.9" r="2.9"/><circle cx="340.9" cy="287.2" r="2.9"/><circle cx="358.0" cy="324.8" r="2.9"/><circle cx="380.1" cy="246.2" r="2.9"/><circle cx="279.5" cy="261.1" r="2.9"/><circle cx="290.5" cy="298.5" r="2.9"/><circle cx="308.2" cy="319.3" r="2.9"/><circle cx="248.6" cy="271.6" r="2.9"/><circle cx="394.5" cy="306.2" r="2.9"/><circle cx="331.7" cy="298.3" r="2.9"/><circle cx="299.1" cy="245.2" r="2.9"/><circle cx="266.0" cy="296.3" r="2.9"/><circle cx="275.4" cy="278.2" r="2.9"/><circle cx="309.1" cy="264.5" r="2.9"/><circle cx="299.3" cy="282.2" r="2.9"/><circle cx="350.2" cy="311.6" r="2.9"/><circle cx="313.9" cy="325.8" r="2.9"/><circle cx="256.2" cy="276.5" r="2.9"/><circle cx="253.3" cy="276.4" r="2.9"/><circle cx="333.3" cy="309.5" r="2.9"/><circle cx="290.0" cy="269.9" r="2.9"/><circle cx="335.2" cy="298.2" r="2.9"/><circle cx="365.9" cy="285.1" r="2.9"/><circle cx="282.8" cy="316.3" r="2.9"/><circle cx="330.8" cy="312.4" r="2.9"/><circle cx="348.9" cy="333.8" r="2.9"/><circle cx="358.4" cy="321.2" r="2.9"/><circle cx="363.0" cy="265.2" r="2.9"/><circle cx="378.9" cy="295.5" r="2.9"/><circle cx="322.4" cy="306.9" r="2.9"/><circle cx="361.5" cy="324.4" r="2.9"/><circle cx="273.5" cy="246.5" r="2.9"/><circle cx="288.7" cy="294.4" r="2.9"/><circle cx="306.7" cy="277.9" r="2.9"/><circle cx="348.1" cy="312.7" r="2.9"/><circle cx="328.0" cy="260.6" r="2.9"/><circle cx="319.9" cy="236.8" r="2.9"/><circle cx="297.6" cy="286.3" r="2.9"/><circle cx="284.5" cy="326.4" r="2.9"/><circle cx="368.4" cy="242.8" r="2.9"/><circle cx="316.6" cy="322.6" r="2.9"/><circle cx="342.5" cy="307.9" r="2.9"/><circle cx="315.5" cy="288.3" r="2.9"/><circle cx="332.0" cy="278.1" r="2.9"/><circle cx="368.7" cy="282.6" r="2.9"/><circle cx="359.7" cy="310.8" r="2.9"/><circle cx="334.3" cy="268.8" r="2.9"/><circle cx="327.8" cy="260.8" r="2.9"/><circle cx="358.0" cy="269.3" r="2.9"/><circle cx="305.9" cy="309.6" r="2.9"/><circle cx="333.9" cy="313.5" r="2.9"/><circle cx="271.3" cy="256.9" r="2.9"/><circle cx="313.8" cy="300.9" r="2.9"/><circle cx="305.2" cy="257.5" r="2.9"/><circle cx="292.0" cy="317.0" r="2.9"/><circle cx="277.7" cy="308.2" r="2.9"/><circle cx="260.0" cy="242.8" r="2.9"/><circle cx="365.0" cy="281.4" r="2.9"/><circle cx="380.6" cy="262.7" r="2.9"/><circle cx="326.6" cy="269.7" r="2.9"/><circle cx="310.0" cy="291.3" r="2.9"/><circle cx="322.0" cy="331.6" r="2.9"/><circle cx="351.3" cy="290.4" r="2.9"/><circle cx="290.3" cy="263.1" r="2.9"/><circle cx="293.8" cy="255.9" r="2.9"/><circle cx="268.3" cy="284.2" r="2.9"/><circle cx="306.4" cy="254.9" r="2.9"/><circle cx="322.5" cy="285.1" r="2.9"/><circle cx="255.2" cy="304.1" r="2.9"/><circle cx="360.5" cy="292.1" r="2.9"/><circle cx="289.4" cy="264.3" r="2.9"/><circle cx="350.5" cy="305.8" r="2.9"/><circle cx="300.4" cy="270.7" r="2.9"/><circle cx="231.4" cy="297.8" r="2.9"/><circle cx="322.6" cy="240.4" r="2.9"/><circle cx="300.2" cy="312.2" r="2.9"/><circle cx="311.2" cy="276.4" r="2.9"/><circle cx="299.2" cy="311.3" r="2.9"/><circle cx="278.6" cy="266.6" r="2.9"/><circle cx="256.2" cy="278.9" r="2.9"/><circle cx="317.8" cy="282.3" r="2.9"/><circle cx="325.9" cy="285.2" r="2.9"/><circle cx="293.7" cy="307.0" r="2.9"/><circle cx="378.0" cy="295.2" r="2.9"/><circle cx="329.1" cy="280.3" r="2.9"/><circle cx="279.7" cy="281.2" r="2.9"/><circle cx="391.4" cy="267.5" r="2.9"/><circle cx="310.2" cy="303.2" r="2.9"/><circle cx="372.0" cy="333.8" r="2.9"/><circle cx="343.7" cy="257.3" r="2.9"/><circle cx="347.1" cy="270.5" r="2.9"/><circle cx="264.8" cy="288.9" r="2.9"/><circle cx="319.0" cy="308.5" r="2.9"/><circle cx="277.7" cy="281.4" r="2.9"/><circle cx="342.8" cy="289.7" r="2.9"/><circle cx="224.8" cy="283.0" r="2.9"/><circle cx="310.4" cy="298.2" r="2.9"/><circle cx="265.9" cy="271.1" r="2.9"/><circle cx="358.6" cy="262.7" r="2.9"/><circle cx="331.3" cy="271.2" r="2.9"/><circle cx="248.3" cy="314.8" r="2.9"/><circle cx="329.8" cy="243.9" r="2.9"/><circle cx="303.6" cy="328.2" r="2.9"/><circle cx="287.8" cy="271.9" r="2.9"/><circle cx="261.5" cy="302.0" r="2.9"/><circle cx="388.7" cy="288.3" r="2.9"/><circle cx="341.9" cy="341.5" r="2.9"/><circle cx="380.0" cy="330.5" r="2.9"/><circle cx="361.8" cy="307.3" r="2.9"/><circle cx="307.8" cy="263.5" r="2.9"/><circle cx="269.0" cy="304.5" r="2.9"/><circle cx="274.6" cy="263.4" r="2.9"/><circle cx="296.9" cy="325.9" r="2.9"/><circle cx="333.3" cy="348.9" r="2.9"/><circle cx="254.8" cy="339.9" r="2.9"/><circle cx="346.9" cy="310.3" r="2.9"/><circle cx="307.7" cy="284.5" r="2.9"/><circle cx="330.2" cy="279.7" r="2.9"/><circle cx="269.7" cy="257.0" r="2.9"/><circle cx="289.5" cy="317.5" r="2.9"/><circle cx="377.5" cy="286.4" r="2.9"/><circle cx="293.6" cy="279.7" r="2.9"/><circle cx="279.8" cy="269.0" r="2.9"/><circle cx="328.5" cy="274.0" r="2.9"/><circle cx="407.8" cy="290.0" r="2.9"/><circle cx="242.7" cy="318.7" r="2.9"/><circle cx="334.0" cy="273.6" r="2.9"/><circle cx="380.2" cy="270.0" r="2.9"/><circle cx="282.3" cy="267.5" r="2.9"/><circle cx="301.0" cy="289.5" r="2.9"/><circle cx="346.2" cy="339.9" r="2.9"/><circle cx="292.7" cy="315.8" r="2.9"/><circle cx="347.2" cy="306.2" r="2.9"/><circle cx="363.6" cy="237.8" r="2.9"/><circle cx="290.1" cy="280.8" r="2.9"/><circle cx="388.6" cy="317.7" r="2.9"/><circle cx="371.3" cy="318.9" r="2.9"/><circle cx="302.7" cy="255.7" r="2.9"/><circle cx="351.3" cy="292.1" r="2.9"/><circle cx="290.6" cy="330.5" r="2.9"/><circle cx="254.1" cy="307.6" r="2.9"/><circle cx="309.2" cy="347.3" r="2.9"/><circle cx="321.1" cy="328.0" r="2.9"/><circle cx="300.2" cy="348.1" r="2.9"/><circle cx="341.6" cy="287.1" r="2.9"/><circle cx="341.2" cy="323.9" r="2.9"/><circle cx="307.9" cy="347.5" r="2.9"/><circle cx="383.0" cy="309.0" r="2.9"/><circle cx="340.0" cy="277.9" r="2.9"/><circle cx="344.9" cy="262.8" r="2.9"/><circle cx="284.3" cy="295.4" r="2.9"/><circle cx="279.9" cy="303.9" r="2.9"/><circle cx="290.0" cy="319.1" r="2.9"/><circle cx="331.7" cy="272.9" r="2.9"/><circle cx="332.0" cy="301.4" r="2.9"/><circle cx="264.2" cy="274.6" r="2.9"/><circle cx="331.1" cy="303.1" r="2.9"/><circle cx="317.9" cy="311.6" r="2.9"/><circle cx="350.3" cy="279.5" r="2.9"/><circle cx="290.0" cy="317.6" r="2.9"/><circle cx="263.8" cy="279.5" r="2.9"/><circle cx="287.1" cy="287.6" r="2.9"/><circle cx="312.5" cy="310.6" r="2.9"/><circle cx="286.1" cy="258.3" r="2.9"/><circle cx="305.1" cy="255.8" r="2.9"/><circle cx="309.9" cy="277.9" r="2.9"/><circle cx="346.4" cy="263.3" r="2.9"/><circle cx="378.9" cy="251.6" r="2.9"/><circle cx="273.9" cy="247.8" r="2.9"/><circle cx="323.2" cy="266.2" r="2.9"/><circle cx="314.9" cy="261.8" r="2.9"/><circle cx="345.4" cy="281.0" r="2.9"/><circle cx="292.8" cy="280.5" r="2.9"/><circle cx="360.7" cy="255.4" r="2.9"/><circle cx="368.4" cy="275.2" r="2.9"/><circle cx="323.2" cy="326.5" r="2.9"/><circle cx="345.0" cy="313.2" r="2.9"/><circle cx="333.6" cy="337.8" r="2.9"/><circle cx="290.4" cy="327.6" r="2.9"/><circle cx="356.2" cy="277.3" r="2.9"/><circle cx="232.2" cy="317.7" r="2.9"/><circle cx="319.5" cy="341.4" r="2.9"/><circle cx="292.0" cy="327.4" r="2.9"/><circle cx="306.7" cy="289.8" r="2.9"/><circle cx="377.9" cy="307.0" r="2.9"/><circle cx="246.4" cy="258.6" r="2.9"/><circle cx="281.0" cy="327.3" r="2.9"/><circle cx="326.2" cy="327.0" r="2.9"/><circle cx="347.2" cy="252.3" r="2.9"/><circle cx="261.0" cy="290.8" r="2.9"/><circle cx="206.3" cy="208.7" r="2.9"/><circle cx="226.5" cy="214.2" r="2.9"/><circle cx="102.7" cy="259.3" r="2.9"/><circle cx="123.2" cy="267.2" r="2.9"/><circle cx="137.3" cy="284.1" r="2.9"/><circle cx="170.7" cy="281.3" r="2.9"/><circle cx="186.0" cy="224.5" r="2.9"/><circle cx="186.0" cy="253.5" r="2.9"/><circle cx="179.7" cy="290.9" r="2.9"/><circle cx="191.1" cy="292.4" r="2.9"/><circle cx="174.7" cy="305.6" r="2.9"/><circle cx="199.2" cy="310.4" r="2.9"/><circle cx="197.4" cy="318.7" r="2.9"/><circle cx="217.1" cy="328.4" r="2.9"/><circle cx="221.9" cy="327.7" r="2.9"/><circle cx="234.0" cy="321.6" r="2.9"/><circle cx="239.8" cy="331.0" r="2.9"/><circle cx="246.2" cy="327.2" r="2.9"/><circle cx="248.7" cy="329.7" r="2.9"/><circle cx="246.7" cy="320.1" r="2.9"/><circle cx="248.7" cy="317.6" r="2.9"/><circle cx="212.6" cy="342.8" r="2.9"/><circle cx="210.8" cy="351.9" r="2.9"/><circle cx="223.7" cy="356.7" r="2.9"/><circle cx="230.8" cy="349.6" r="2.9"/><circle cx="232.3" cy="347.4" r="2.9"/><circle cx="239.1" cy="347.9" r="2.9"/><circle cx="240.4" cy="356.0" r="2.9"/><circle cx="248.4" cy="347.9" r="2.9"/><circle cx="237.6" cy="374.4" r="2.9"/><circle cx="227.2" cy="382.0" r="2.9"/><circle cx="238.6" cy="385.0" r="2.9"/><circle cx="171.9" cy="390.3" r="2.9"/><circle cx="366.8" cy="192.5" r="2.9"/><circle cx="357.7" cy="201.9" r="2.9"/><circle cx="371.3" cy="213.2" r="2.9"/><circle cx="432.4" cy="199.7" r="2.9"/><circle cx="375.4" cy="215.7" r="2.9"/><circle cx="349.6" cy="218.9" r="2.9"/><circle cx="389.2" cy="232.1" r="2.9"/><circle cx="415.3" cy="238.9" r="2.9"/><circle cx="431.7" cy="242.9" r="2.9"/><circle cx="400.6" cy="245.2" r="2.9"/><circle cx="458.9" cy="256.3" r="2.9"/><circle cx="393.5" cy="252.8" r="2.9"/><circle cx="379.1" cy="249.0" r="2.9"/><circle cx="401.4" cy="261.1" r="2.9"/><circle cx="410.0" cy="263.6" r="2.9"/><circle cx="422.1" cy="264.9" r="2.9"/><circle cx="408.2" cy="267.4" r="2.9"/><circle cx="437.2" cy="275.0" r="2.9"/><circle cx="424.1" cy="280.7" r="2.9"/><circle cx="425.9" cy="283.2" r="2.9"/><circle cx="418.8" cy="284.0" r="2.9"/><circle cx="436.0" cy="293.6" r="2.9"/><circle cx="442.3" cy="297.4" r="2.9"/><circle cx="435.5" cy="298.4" r="2.9"/><circle cx="439.2" cy="302.2" r="2.9"/><circle cx="433.9" cy="313.5" r="2.9"/><circle cx="433.9" cy="321.4" r="2.9"/><circle cx="449.1" cy="317.6" r="2.9"/><circle cx="444.0" cy="321.4" r="2.9"/><circle cx="448.6" cy="321.9" r="2.9"/><circle cx="423.3" cy="313.5" r="2.9"/><circle cx="424.1" cy="319.3" r="2.9"/><circle cx="415.8" cy="307.2" r="2.9"/><circle cx="409.4" cy="307.2" r="2.9"/><circle cx="422.1" cy="304.7" r="2.9"/><circle cx="404.6" cy="316.1" r="2.9"/><circle cx="386.0" cy="323.6" r="2.9"/><circle cx="426.4" cy="339.5" r="2.9"/><circle cx="420.3" cy="340.3" r="2.9"/><circle cx="418.3" cy="342.1" r="2.9"/><circle cx="418.8" cy="347.9" r="2.9"/><circle cx="434.2" cy="352.7" r="2.9"/><circle cx="397.3" cy="345.1" r="2.9"/><circle cx="393.0" cy="347.9" r="2.9"/><circle cx="400.6" cy="354.2" r="2.9"/><circle cx="405.7" cy="353.9" r="2.9"/><circle cx="382.2" cy="350.4" r="2.9"/><circle cx="366.5" cy="350.2" r="2.9"/><circle cx="366.5" cy="358.0" r="2.9"/><circle cx="364.5" cy="364.8" r="2.9"/><circle cx="359.7" cy="370.4" r="2.9"/><circle cx="352.6" cy="360.5" r="2.9"/><circle cx="350.1" cy="369.8" r="2.9"/><circle cx="350.1" cy="383.7" r="2.9"/><circle cx="340.0" cy="371.1" r="2.9"/><circle cx="350.6" cy="346.4" r="2.9"/><circle cx="341.3" cy="346.6" r="2.9"/><circle cx="316.3" cy="413.0" r="2.9"/><circle cx="291.3" cy="383.2" r="2.9"/><circle cx="267.0" cy="372.6" r="2.9"/><circle cx="277.4" cy="361.8" r="2.9"/><circle cx="290.5" cy="361.8" r="2.9"/><circle cx="259.7" cy="355.5" r="2.9"/><circle cx="254.4" cy="351.7" r="2.9"/><circle cx="260.7" cy="347.9" r="2.9"/><circle cx="270.8" cy="342.3" r="2.9"/><circle cx="280.4" cy="347.9" r="2.9"/><circle cx="290.5" cy="347.4" r="2.9"/><circle cx="300.1" cy="350.4" r="2.9"/><circle cx="307.7" cy="348.6" r="2.9"/><circle cx="312.0" cy="349.1" r="2.9"/><circle cx="318.3" cy="349.9" r="2.9"/><circle cx="306.2" cy="356.2" r="2.9"/><circle cx="306.4" cy="359.2" r="2.9"/><circle cx="320.3" cy="358.0" r="2.9"/><circle cx="319.5" cy="361.8" r="2.9"/><circle cx="320.3" cy="364.3" r="2.9"/><circle cx="327.9" cy="360.5" r="2.9"/><circle cx="325.4" cy="363.0" r="2.9"/><circle cx="323.3" cy="373.1" r="2.9"/><circle cx="320.8" cy="376.2" r="2.9"/><circle cx="329.6" cy="373.6" r="2.9"/><circle cx="327.1" cy="346.1" r="2.9"/><circle cx="331.4" cy="343.6" r="2.9"/><circle cx="377.6" cy="330.2" r="2.9"/><circle cx="377.6" cy="335.3" r="2.9"/><circle cx="368.8" cy="340.3" r="2.9"/><circle cx="204.4" cy="245.7" r="2.9"/><circle cx="215.0" cy="245.4" r="2.9"/><circle cx="232.6" cy="246.3" r="2.9"/><circle cx="236.9" cy="241.9" r="2.9"/><circle cx="226.9" cy="236.3" r="2.9"/><circle cx="245.1" cy="244.4" r="2.9"/><circle cx="205.0" cy="260.7" r="2.9"/><circle cx="206.9" cy="262.9" r="2.9"/><circle cx="203.2" cy="267.6" r="2.9"/><circle cx="201.3" cy="269.4" r="2.9"/><circle cx="220.1" cy="272.6" r="2.9"/><circle cx="225.1" cy="275.1" r="2.9"/><circle cx="234.4" cy="258.2" r="2.9"/><circle cx="235.1" cy="266.9" r="2.9"/><circle cx="236.9" cy="274.4" r="2.9"/><circle cx="238.8" cy="263.2" r="2.9"/><circle cx="209.7" cy="278.5" r="2.9"/><circle cx="201.3" cy="281.0" r="2.9"/><circle cx="219.4" cy="281.3" r="2.9"/><circle cx="204.4" cy="286.9" r="2.9"/><circle cx="215.7" cy="288.1" r="2.9"/><circle cx="213.5" cy="295.7" r="2.9"/><circle cx="226.9" cy="295.7" r="2.9"/><circle cx="228.8" cy="298.2" r="2.9"/><circle cx="230.1" cy="300.7" r="2.9"/><circle cx="217.9" cy="303.8" r="2.9"/><circle cx="223.6" cy="304.8" r="2.9"/><circle cx="229.4" cy="280.6" r="2.9"/><circle cx="234.1" cy="283.5" r="2.9"/><circle cx="242.0" cy="281.9" r="2.9"/><circle cx="240.5" cy="290.7" r="2.9"/><circle cx="236.9" cy="301.0" r="2.9"/><circle cx="239.4" cy="303.8" r="2.9"/><circle cx="245.1" cy="305.0" r="2.9"/><circle cx="251.3" cy="306.9" r="2.9"/><circle cx="247.6" cy="298.2" r="2.9"/><circle cx="255.1" cy="321.3" r="2.9"/><circle cx="259.5" cy="320.1" r="2.9"/><circle cx="407.0" cy="281.1" r="2.9"/><circle cx="406.3" cy="274.9" r="2.9"/><circle cx="398.2" cy="276.8" r="2.9"/><circle cx="403.6" cy="291.2" r="2.9"/><circle cx="416.4" cy="296.8" r="2.9"/><circle cx="407.6" cy="294.9" r="2.9"/><circle cx="394.8" cy="297.0" r="2.9"/><circle cx="376.3" cy="322.8" r="2.9"/></g>
<g fill="#c0504d"><circle cx="246.6" cy="232.4" r="2.9"/><circle cx="288.6" cy="251.8" r="2.9"/><circle cx="319.8" cy="264.3" r="2.9"/><circle cx="271.8" cy="236.4" r="2.9"/><circle cx="308.3" cy="240.5" r="2.9"/><circle cx="294.6" cy="233.6" r="2.9"/><circle cx="306.7" cy="291.1" r="2.9"/><circle cx="294.6" cy="262.0" r="2.9"/><circle cx="311.3" cy="245.0" r="2.9"/><circle cx="240.6" cy="226.9" r="2.9"/><circle cx="297.1" cy="259.2" r="2.9"/><circle cx="307.3" cy="240.4" r="2.9"/><circle cx="330.4" cy="242.7" r="2.9"/><circle cx="335.8" cy="219.3" r="2.9"/><circle cx="323.5" cy="261.9" r="2.9"/><circle cx="325.3" cy="246.4" r="2.9"/><circle cx="347.5" cy="254.3" r="2.9"/><circle cx="305.1" cy="236.4" r="2.9"/><circle cx="359.9" cy="232.3" r="2.9"/><circle cx="302.7" cy="234.3" r="2.9"/><circle cx="264.5" cy="237.2" r="2.9"/><circle cx="309.2" cy="218.9" r="2.9"/><circle cx="299.8" cy="257.3" r="2.9"/><circle cx="365.9" cy="205.9" r="2.9"/><circle cx="285.6" cy="248.9" r="2.9"/><circle cx="315.5" cy="244.4" r="2.9"/><circle cx="311.4" cy="240.0" r="2.9"/><circle cx="376.0" cy="270.4" r="2.9"/><circle cx="297.0" cy="267.9" r="2.9"/><circle cx="342.9" cy="225.0" r="2.9"/><circle cx="356.3" cy="248.1" r="2.9"/><circle cx="336.9" cy="205.7" r="2.9"/><circle cx="356.5" cy="214.3" r="2.9"/><circle cx="361.9" cy="203.2" r="2.9"/><circle cx="282.3" cy="189.5" r="2.9"/><circle cx="308.4" cy="198.6" r="2.9"/><circle cx="347.4" cy="245.9" r="2.9"/><circle cx="282.0" cy="195.6" r="2.9"/><circle cx="301.6" cy="217.4" r="2.9"/><circle cx="338.1" cy="237.8" r="2.9"/><circle cx="265.4" cy="247.0" r="2.9"/><circle cx="323.1" cy="200.4" r="2.9"/><circle cx="264.7" cy="262.8" r="2.9"/><circle cx="309.4" cy="210.0" r="2.9"/><circle cx="302.9" cy="192.8" r="2.9"/><circle cx="304.5" cy="234.8" r="2.9"/><circle cx="321.5" cy="247.8" r="2.9"/><circle cx="239.2" cy="214.6" r="2.9"/><circle cx="341.3" cy="225.5" r="2.9"/><circle cx="260.0" cy="266.1" r="2.9"/><circle cx="270.1" cy="255.7" r="2.9"/><circle cx="299.8" cy="279.0" r="2.9"/><circle cx="296.0" cy="220.0" r="2.9"/><circle cx="352.0" cy="221.0" r="2.9"/><circle cx="329.0" cy="213.0" r="2.9"/><circle cx="272.7" cy="260.7" r="2.9"/><circle cx="264.4" cy="256.8" r="2.9"/><circle cx="330.0" cy="259.1" r="2.9"/><circle cx="293.4" cy="230.8" r="2.9"/><circle cx="299.5" cy="238.3" r="2.9"/><circle cx="293.1" cy="241.0" r="2.9"/><circle cx="347.3" cy="199.3" r="2.9"/><circle cx="317.9" cy="196.0" r="2.9"/><circle cx="317.9" cy="208.4" r="2.9"/><circle cx="364.6" cy="228.1" r="2.9"/><circle cx="312.2" cy="180.9" r="2.9"/><circle cx="261.8" cy="229.8" r="2.9"/><circle cx="277.5" cy="279.0" r="2.9"/><circle cx="309.3" cy="216.3" r="2.9"/><circle cx="309.0" cy="226.6" r="2.9"/><circle cx="269.3" cy="222.9" r="2.9"/><circle cx="302.4" cy="219.4" r="2.9"/><circle cx="335.3" cy="266.5" r="2.9"/><circle cx="343.4" cy="224.6" r="2.9"/><circle cx="245.6" cy="247.1" r="2.9"/><circle cx="255.9" cy="200.4" r="2.9"/><circle cx="287.7" cy="258.2" r="2.9"/><circle cx="272.8" cy="207.2" r="2.9"/><circle cx="308.6" cy="235.6" r="2.9"/><circle cx="302.8" cy="299.2" r="2.9"/><circle cx="282.9" cy="222.1" r="2.9"/><circle cx="270.0" cy="220.7" r="2.9"/><circle cx="365.7" cy="230.6" r="2.9"/><circle cx="295.6" cy="224.3" r="2.9"/><circle cx="248.4" cy="233.5" r="2.9"/><circle cx="325.2" cy="280.8" r="2.9"/><circle cx="284.8" cy="193.0" r="2.9"/><circle cx="275.1" cy="240.6" r="2.9"/><circle cx="312.3" cy="224.5" r="2.9"/><circle cx="302.0" cy="253.1" r="2.9"/><circle cx="292.4" cy="228.7" r="2.9"/><circle cx="303.0" cy="188.8" r="2.9"/><circle cx="336.3" cy="281.0" r="2.9"/><circle cx="314.1" cy="257.5" r="2.9"/><circle cx="329.9" cy="219.3" r="2.9"/><circle cx="230.6" cy="222.7" r="2.9"/><circle cx="333.5" cy="222.5" r="2.9"/><circle cx="293.3" cy="183.5" r="2.9"/><circle cx="354.8" cy="236.8" r="2.9"/><circle cx="328.0" cy="268.0" r="2.9"/><circle cx="357.7" cy="232.0" r="2.9"/><circle cx="277.4" cy="265.1" r="2.9"/><circle cx="339.1" cy="257.0" r="2.9"/><circle cx="333.2" cy="184.4" r="2.9"/><circle cx="273.1" cy="280.2" r="2.9"/><circle cx="305.6" cy="251.2" r="2.9"/><circle cx="316.9" cy="250.1" r="2.9"/><circle cx="252.1" cy="231.1" r="2.9"/><circle cx="263.8" cy="259.4" r="2.9"/><circle cx="299.1" cy="214.1" r="2.9"/><circle cx="280.9" cy="233.9" r="2.9"/><circle cx="350.6" cy="255.4" r="2.9"/><circle cx="294.8" cy="258.8" r="2.9"/><circle cx="343.2" cy="270.2" r="2.9"/><circle cx="312.6" cy="240.4" r="2.9"/><circle cx="290.2" cy="208.6" r="2.9"/><circle cx="325.3" cy="262.0" r="2.9"/><circle cx="267.3" cy="201.7" r="2.9"/><circle cx="337.8" cy="198.3" r="2.9"/><circle cx="265.7" cy="204.8" r="2.9"/><circle cx="325.9" cy="235.6" r="2.9"/><circle cx="314.5" cy="262.2" r="2.9"/><circle cx="370.8" cy="242.9" r="2.9"/><circle cx="274.2" cy="183.1" r="2.9"/><circle cx="258.6" cy="210.2" r="2.9"/><circle cx="309.4" cy="281.3" r="2.9"/><circle cx="323.0" cy="237.6" r="2.9"/><circle cx="308.8" cy="228.1" r="2.9"/><circle cx="302.7" cy="221.6" r="2.9"/><circle cx="345.0" cy="196.7" r="2.9"/><circle cx="345.0" cy="258.2" r="2.9"/><circle cx="325.1" cy="250.8" r="2.9"/><circle cx="294.3" cy="224.7" r="2.9"/><circle cx="335.7" cy="220.0" r="2.9"/><circle cx="337.1" cy="270.3" r="2.9"/><circle cx="329.5" cy="256.7" r="2.9"/><circle cx="285.4" cy="223.2" r="2.9"/><circle cx="356.0" cy="293.5" r="2.9"/><circle cx="286.4" cy="207.1" r="2.9"/><circle cx="316.9" cy="259.2" r="2.9"/><circle cx="351.6" cy="255.8" r="2.9"/><circle cx="306.5" cy="227.8" r="2.9"/><circle cx="300.2" cy="250.3" r="2.9"/><circle cx="322.5" cy="250.8" r="2.9"/><circle cx="243.8" cy="240.5" r="2.9"/><circle cx="288.6" cy="284.3" r="2.9"/><circle cx="297.3" cy="224.6" r="2.9"/><circle cx="323.9" cy="255.4" r="2.9"/><circle cx="316.7" cy="187.3" r="2.9"/><circle cx="305.6" cy="218.4" r="2.9"/><circle cx="319.5" cy="210.2" r="2.9"/><circle cx="341.8" cy="224.1" r="2.9"/><circle cx="334.2" cy="242.6" r="2.9"/><circle cx="302.5" cy="247.5" r="2.9"/><circle cx="279.1" cy="251.5" r="2.9"/><circle cx="322.7" cy="227.7" r="2.9"/><circle cx="275.8" cy="211.7" r="2.9"/><circle cx="310.1" cy="237.9" r="2.9"/><circle cx="310.2" cy="262.3" r="2.9"/><circle cx="297.5" cy="226.2" r="2.9"/><circle cx="315.1" cy="239.7" r="2.9"/><circle cx="267.8" cy="199.9" r="2.9"/><circle cx="372.4" cy="266.7" r="2.9"/><circle cx="366.5" cy="271.6" r="2.9"/><circle cx="316.3" cy="211.7" r="2.9"/><circle cx="355.5" cy="225.5" r="2.9"/><circle cx="296.0" cy="286.5" r="2.9"/><circle cx="323.8" cy="251.5" r="2.9"/><circle cx="309.3" cy="245.2" r="2.9"/><circle cx="237.1" cy="206.3" r="2.9"/><circle cx="302.8" cy="275.8" r="2.9"/><circle cx="286.6" cy="186.9" r="2.9"/><circle cx="236.5" cy="230.8" r="2.9"/><circle cx="342.1" cy="262.1" r="2.9"/><circle cx="280.6" cy="245.2" r="2.9"/><circle cx="299.0" cy="246.8" r="2.9"/><circle cx="346.6" cy="261.2" r="2.9"/><circle cx="324.9" cy="207.5" r="2.9"/><circle cx="302.0" cy="198.1" r="2.9"/><circle cx="283.0" cy="259.2" r="2.9"/><circle cx="378.3" cy="283.6" r="2.9"/><circle cx="274.6" cy="286.5" r="2.9"/><circle cx="320.7" cy="280.0" r="2.9"/><circle cx="262.6" cy="249.0" r="2.9"/><circle cx="296.2" cy="284.1" r="2.9"/><circle cx="346.8" cy="261.4" r="2.9"/><circle cx="275.7" cy="234.3" r="2.9"/><circle cx="284.2" cy="236.1" r="2.9"/><circle cx="326.8" cy="199.1" r="2.9"/><circle cx="312.9" cy="225.2" r="2.9"/><circle cx="305.5" cy="280.6" r="2.9"/><circle cx="315.6" cy="242.1" r="2.9"/><circle cx="304.3" cy="262.3" r="2.9"/><circle cx="300.1" cy="214.0" r="2.9"/><circle cx="316.0" cy="233.7" r="2.9"/><circle cx="358.8" cy="225.9" r="2.9"/><circle cx="309.6" cy="279.4" r="2.9"/><circle cx="327.4" cy="251.3" r="2.9"/><circle cx="303.5" cy="268.4" r="2.9"/><circle cx="372.3" cy="274.7" r="2.9"/><circle cx="324.6" cy="253.6" r="2.9"/><circle cx="341.0" cy="268.1" r="2.9"/><circle cx="349.8" cy="183.8" r="2.9"/><circle cx="301.4" cy="223.8" r="2.9"/><circle cx="323.1" cy="279.1" r="2.9"/><circle cx="308.1" cy="213.1" r="2.9"/><circle cx="302.4" cy="236.6" r="2.9"/><circle cx="350.7" cy="297.5" r="2.9"/><circle cx="271.0" cy="268.1" r="2.9"/><circle cx="264.4" cy="209.5" r="2.9"/><circle cx="255.1" cy="225.8" r="2.9"/><circle cx="322.7" cy="267.4" r="2.9"/><circle cx="318.4" cy="248.8" r="2.9"/><circle cx="261.8" cy="217.7" r="2.9"/><circle cx="251.8" cy="210.6" r="2.9"/><circle cx="287.0" cy="254.1" r="2.9"/><circle cx="341.2" cy="285.2" r="2.9"/><circle cx="314.0" cy="214.2" r="2.9"/><circle cx="291.8" cy="244.5" r="2.9"/><circle cx="324.0" cy="195.3" r="2.9"/><circle cx="325.0" cy="222.4" r="2.9"/><circle cx="283.8" cy="263.1" r="2.9"/><circle cx="303.2" cy="176.8" r="2.9"/><circle cx="317.5" cy="230.3" r="2.9"/><circle cx="273.6" cy="231.0" r="2.9"/><circle cx="298.0" cy="200.8" r="2.9"/><circle cx="289.9" cy="209.7" r="2.9"/><circle cx="244.3" cy="255.6" r="2.9"/><circle cx="346.7" cy="233.6" r="2.9"/><circle cx="325.0" cy="270.6" r="2.9"/><circle cx="308.9" cy="293.1" r="2.9"/><circle cx="281.1" cy="256.9" r="2.9"/><circle cx="319.5" cy="247.7" r="2.9"/><circle cx="302.4" cy="187.3" r="2.9"/><circle cx="289.1" cy="251.9" r="2.9"/><circle cx="284.4" cy="248.0" r="2.9"/><circle cx="344.0" cy="256.2" r="2.9"/><circle cx="302.5" cy="273.9" r="2.9"/><circle cx="260.3" cy="203.7" r="2.9"/><circle cx="307.3" cy="278.1" r="2.9"/><circle cx="344.0" cy="268.6" r="2.9"/><circle cx="326.4" cy="261.5" r="2.9"/><circle cx="281.4" cy="258.9" r="2.9"/><circle cx="288.0" cy="234.6" r="2.9"/><circle cx="340.4" cy="264.2" r="2.9"/><circle cx="323.0" cy="175.9" r="2.9"/><circle cx="320.3" cy="240.9" r="2.9"/><circle cx="266.1" cy="217.8" r="2.9"/><circle cx="321.8" cy="246.2" r="2.9"/><circle cx="284.4" cy="240.0" r="2.9"/><circle cx="261.6" cy="266.0" r="2.9"/><circle cx="329.0" cy="247.7" r="2.9"/><circle cx="267.7" cy="240.1" r="2.9"/><circle cx="348.5" cy="276.9" r="2.9"/><circle cx="310.2" cy="197.8" r="2.9"/><circle cx="285.4" cy="246.0" r="2.9"/><circle cx="315.3" cy="241.3" r="2.9"/><circle cx="295.5" cy="203.3" r="2.9"/><circle cx="244.4" cy="227.2" r="2.9"/><circle cx="250.2" cy="253.0" r="2.9"/><circle cx="337.9" cy="202.2" r="2.9"/><circle cx="335.3" cy="256.3" r="2.9"/><circle cx="312.2" cy="211.5" r="2.9"/><circle cx="317.9" cy="294.4" r="2.9"/><circle cx="358.5" cy="193.4" r="2.9"/><circle cx="318.5" cy="281.2" r="2.9"/><circle cx="342.3" cy="238.8" r="2.9"/><circle cx="250.2" cy="240.0" r="2.9"/><circle cx="352.3" cy="200.5" r="2.9"/><circle cx="287.6" cy="238.9" r="2.9"/><circle cx="285.5" cy="199.6" r="2.9"/><circle cx="339.9" cy="221.7" r="2.9"/><circle cx="256.4" cy="225.0" r="2.9"/><circle cx="239.1" cy="258.4" r="2.9"/><circle cx="312.7" cy="233.0" r="2.9"/><circle cx="287.4" cy="243.5" r="2.9"/><circle cx="315.9" cy="223.3" r="2.9"/><circle cx="298.9" cy="206.1" r="2.9"/><circle cx="357.2" cy="221.2" r="2.9"/><circle cx="293.7" cy="257.5" r="2.9"/><circle cx="290.0" cy="256.6" r="2.9"/><circle cx="316.7" cy="240.2" r="2.9"/><circle cx="246.2" cy="240.6" r="2.9"/><circle cx="338.8" cy="247.7" r="2.9"/><circle cx="278.8" cy="257.8" r="2.9"/><circle cx="319.0" cy="259.9" r="2.9"/><circle cx="297.5" cy="227.8" r="2.9"/><circle cx="308.4" cy="240.2" r="2.9"/><circle cx="322.6" cy="214.7" r="2.9"/><circle cx="378.1" cy="261.4" r="2.9"/><circle cx="313.0" cy="258.8" r="2.9"/><circle cx="343.2" cy="264.8" r="2.9"/><circle cx="335.1" cy="175.8" r="2.9"/><circle cx="369.8" cy="228.9" r="2.9"/><circle cx="320.1" cy="222.4" r="2.9"/><circle cx="312.7" cy="190.8" r="2.9"/><circle cx="321.0" cy="206.0" r="2.9"/><circle cx="354.8" cy="247.8" r="2.9"/><circle cx="297.0" cy="277.8" r="2.9"/><circle cx="337.9" cy="207.7" r="2.9"/><circle cx="328.2" cy="242.9" r="2.9"/><circle cx="331.9" cy="208.4" r="2.9"/><circle cx="281.1" cy="250.6" r="2.9"/><circle cx="315.8" cy="255.3" r="2.9"/><circle cx="324.8" cy="257.1" r="2.9"/><circle cx="331.9" cy="240.6" r="2.9"/><circle cx="262.9" cy="256.1" r="2.9"/><circle cx="306.8" cy="209.5" r="2.9"/><circle cx="312.0" cy="192.7" r="2.9"/><circle cx="316.3" cy="220.0" r="2.9"/><circle cx="317.4" cy="226.0" r="2.9"/><circle cx="312.8" cy="212.3" r="2.9"/><circle cx="364.8" cy="232.8" r="2.9"/><circle cx="281.1" cy="225.6" r="2.9"/><circle cx="346.0" cy="272.1" r="2.9"/><circle cx="301.0" cy="281.0" r="2.9"/><circle cx="324.2" cy="273.4" r="2.9"/><circle cx="291.8" cy="221.1" r="2.9"/><circle cx="259.2" cy="227.2" r="2.9"/><circle cx="322.6" cy="259.4" r="2.9"/><circle cx="236.4" cy="228.1" r="2.9"/><circle cx="258.3" cy="235.1" r="2.9"/><circle cx="246.3" cy="256.7" r="2.9"/><circle cx="272.6" cy="229.3" r="2.9"/><circle cx="311.3" cy="206.4" r="2.9"/><circle cx="337.2" cy="276.8" r="2.9"/><circle cx="333.0" cy="238.7" r="2.9"/><circle cx="319.5" cy="233.9" r="2.9"/><circle cx="342.2" cy="261.1" r="2.9"/><circle cx="303.2" cy="248.8" r="2.9"/><circle cx="347.1" cy="285.9" r="2.9"/><circle cx="324.3" cy="211.4" r="2.9"/><circle cx="313.3" cy="198.7" r="2.9"/><circle cx="301.6" cy="252.0" r="2.9"/><circle cx="301.9" cy="270.0" r="2.9"/><circle cx="309.7" cy="279.8" r="2.9"/><circle cx="302.7" cy="258.8" r="2.9"/><circle cx="358.0" cy="272.8" r="2.9"/><circle cx="267.4" cy="262.3" r="2.9"/><circle cx="371.3" cy="224.3" r="2.9"/><circle cx="313.5" cy="223.9" r="2.9"/><circle cx="286.5" cy="251.7" r="2.9"/><circle cx="291.2" cy="274.9" r="2.9"/><circle cx="242.4" cy="235.1" r="2.9"/><circle cx="252.4" cy="213.8" r="2.9"/><circle cx="331.8" cy="187.5" r="2.9"/><circle cx="304.0" cy="231.3" r="2.9"/><circle cx="355.8" cy="254.5" r="2.9"/><circle cx="314.9" cy="232.3" r="2.9"/><circle cx="310.4" cy="229.0" r="2.9"/><circle cx="279.2" cy="207.1" r="2.9"/><circle cx="338.1" cy="242.3" r="2.9"/><circle cx="349.2" cy="275.8" r="2.9"/><circle cx="301.0" cy="262.2" r="2.9"/><circle cx="304.1" cy="213.6" r="2.9"/><circle cx="310.8" cy="187.4" r="2.9"/><circle cx="314.1" cy="282.3" r="2.9"/><circle cx="288.7" cy="216.0" r="2.9"/><circle cx="260.7" cy="275.4" r="2.9"/><circle cx="311.4" cy="260.8" r="2.9"/><circle cx="300.2" cy="218.7" r="2.9"/><circle cx="322.8" cy="219.0" r="2.9"/><circle cx="259.3" cy="194.3" r="2.9"/><circle cx="348.8" cy="251.4" r="2.9"/><circle cx="318.0" cy="199.4" r="2.9"/><circle cx="293.6" cy="219.5" r="2.9"/><circle cx="346.2" cy="284.0" r="2.9"/><circle cx="278.5" cy="210.6" r="2.9"/><circle cx="352.0" cy="249.3" r="2.9"/><circle cx="270.5" cy="212.1" r="2.9"/><circle cx="362.9" cy="263.7" r="2.9"/><circle cx="339.1" cy="226.7" r="2.9"/><circle cx="349.4" cy="224.4" r="2.9"/><circle cx="328.0" cy="205.5" r="2.9"/><circle cx="281.6" cy="221.8" r="2.9"/><circle cx="315.3" cy="231.1" r="2.9"/><circle cx="293.7" cy="229.2" r="2.9"/><circle cx="357.5" cy="203.7" r="2.9"/><circle cx="289.3" cy="207.8" r="2.9"/><circle cx="333.5" cy="231.9" r="2.9"/><circle cx="342.6" cy="218.1" r="2.9"/><circle cx="366.6" cy="250.1" r="2.9"/><circle cx="374.3" cy="211.5" r="2.9"/><circle cx="286.6" cy="236.7" r="2.9"/><circle cx="361.8" cy="243.3" r="2.9"/><circle cx="346.4" cy="205.4" r="2.9"/><circle cx="289.5" cy="230.3" r="2.9"/><circle cx="348.2" cy="256.0" r="2.9"/><circle cx="241.2" cy="215.9" r="2.9"/><circle cx="273.1" cy="263.9" r="2.9"/><circle cx="319.4" cy="239.4" r="2.9"/><circle cx="338.9" cy="234.7" r="2.9"/><circle cx="330.6" cy="265.4" r="2.9"/><circle cx="327.6" cy="200.8" r="2.9"/><circle cx="332.2" cy="248.8" r="2.9"/><circle cx="327.9" cy="208.5" r="2.9"/><circle cx="300.1" cy="269.5" r="2.9"/><circle cx="273.9" cy="204.6" r="2.9"/><circle cx="354.5" cy="218.6" r="2.9"/><circle cx="361.7" cy="226.7" r="2.9"/><circle cx="334.6" cy="252.4" r="2.9"/><circle cx="328.9" cy="191.6" r="2.9"/><circle cx="337.5" cy="251.3" r="2.9"/><circle cx="268.7" cy="232.8" r="2.9"/><circle cx="352.3" cy="248.6" r="2.9"/><circle cx="320.8" cy="244.8" r="2.9"/><circle cx="277.5" cy="246.9" r="2.9"/><circle cx="313.4" cy="254.6" r="2.9"/><circle cx="258.8" cy="271.3" r="2.9"/><circle cx="318.6" cy="237.1" r="2.9"/><circle cx="291.1" cy="255.1" r="2.9"/><circle cx="333.8" cy="283.1" r="2.9"/><circle cx="277.9" cy="179.1" r="2.9"/><circle cx="307.2" cy="205.8" r="2.9"/><circle cx="308.9" cy="218.6" r="2.9"/><circle cx="350.2" cy="287.3" r="2.9"/><circle cx="287.1" cy="208.8" r="2.9"/><circle cx="325.3" cy="247.3" r="2.9"/><circle cx="364.4" cy="230.1" r="2.9"/><circle cx="336.9" cy="245.0" r="2.9"/><circle cx="352.3" cy="277.7" r="2.9"/><circle cx="321.1" cy="272.0" r="2.9"/><circle cx="279.2" cy="225.1" r="2.9"/><circle cx="286.5" cy="255.1" r="2.9"/><circle cx="301.5" cy="227.9" r="2.9"/><circle cx="354.7" cy="236.3" r="2.9"/><circle cx="304.6" cy="248.8" r="2.9"/><circle cx="261.8" cy="213.9" r="2.9"/><circle cx="343.0" cy="244.8" r="2.9"/><circle cx="329.6" cy="229.0" r="2.9"/><circle cx="327.6" cy="234.8" r="2.9"/><circle cx="289.3" cy="244.9" r="2.9"/><circle cx="294.2" cy="250.5" r="2.9"/><circle cx="276.4" cy="236.5" r="2.9"/><circle cx="285.5" cy="228.3" r="2.9"/><circle cx="301.5" cy="283.8" r="2.9"/><circle cx="333.4" cy="172.6" r="2.9"/><circle cx="279.4" cy="256.1" r="2.9"/><circle cx="331.1" cy="218.8" r="2.9"/><circle cx="250.7" cy="210.1" r="2.9"/><circle cx="337.2" cy="200.9" r="2.9"/><circle cx="312.3" cy="225.5" r="2.9"/><circle cx="257.8" cy="225.6" r="2.9"/><circle cx="374.3" cy="232.7" r="2.9"/><circle cx="310.2" cy="252.3" r="2.9"/><circle cx="309.3" cy="248.3" r="2.9"/><circle cx="316.3" cy="218.7" r="2.9"/><circle cx="288.5" cy="260.1" r="2.9"/><circle cx="306.9" cy="263.4" r="2.9"/><circle cx="340.3" cy="246.2" r="2.9"/><circle cx="273.3" cy="181.6" r="2.9"/><circle cx="341.4" cy="245.9" r="2.9"/><circle cx="262.6" cy="212.8" r="2.9"/><circle cx="341.9" cy="195.6" r="2.9"/><circle cx="324.5" cy="261.7" r="2.9"/><circle cx="326.7" cy="193.2" r="2.9"/><circle cx="289.9" cy="263.3" r="2.9"/><circle cx="296.1" cy="256.1" r="2.9"/><circle cx="356.0" cy="214.7" r="2.9"/><circle cx="347.6" cy="273.1" r="2.9"/><circle cx="314.7" cy="269.4" r="2.9"/><circle cx="293.4" cy="196.4" r="2.9"/><circle cx="304.1" cy="232.7" r="2.9"/><circle cx="293.5" cy="249.6" r="2.9"/><circle cx="316.5" cy="222.4" r="2.9"/><circle cx="351.2" cy="209.4" r="2.9"/><circle cx="312.8" cy="228.1" r="2.9"/><circle cx="378.4" cy="255.8" r="2.9"/><circle cx="321.3" cy="239.4" r="2.9"/><circle cx="354.4" cy="198.4" r="2.9"/><circle cx="335.6" cy="244.6" r="2.9"/><circle cx="339.9" cy="269.5" r="2.9"/><circle cx="286.9" cy="263.3" r="2.9"/><circle cx="294.0" cy="229.9" r="2.9"/><circle cx="256.9" cy="228.2" r="2.9"/><circle cx="320.9" cy="268.7" r="2.9"/><circle cx="282.2" cy="224.1" r="2.9"/><circle cx="304.0" cy="212.8" r="2.9"/><circle cx="304.4" cy="254.9" r="2.9"/><circle cx="314.5" cy="251.0" r="2.9"/><circle cx="358.4" cy="276.1" r="2.9"/><circle cx="309.3" cy="251.6" r="2.9"/><circle cx="363.2" cy="270.0" r="2.9"/><circle cx="345.2" cy="205.5" r="2.9"/><circle cx="247.8" cy="254.0" r="2.9"/><circle cx="369.0" cy="279.0" r="2.9"/><circle cx="334.3" cy="243.1" r="2.9"/><circle cx="231.6" cy="213.0" r="2.9"/><circle cx="304.7" cy="233.5" r="2.9"/><circle cx="319.9" cy="241.6" r="2.9"/><circle cx="279.5" cy="181.9" r="2.9"/><circle cx="315.6" cy="266.3" r="2.9"/><circle cx="318.2" cy="236.0" r="2.9"/><circle cx="316.5" cy="254.7" r="2.9"/><circle cx="304.7" cy="234.0" r="2.9"/><circle cx="283.8" cy="245.1" r="2.9"/><circle cx="276.0" cy="249.4" r="2.9"/><circle cx="268.7" cy="223.4" r="2.9"/><circle cx="379.2" cy="254.1" r="2.9"/><circle cx="269.1" cy="244.0" r="2.9"/><circle cx="307.7" cy="191.2" r="2.9"/><circle cx="347.0" cy="238.8" r="2.9"/><circle cx="348.3" cy="289.3" r="2.9"/><circle cx="267.1" cy="208.4" r="2.9"/><circle cx="310.6" cy="192.3" r="2.9"/><circle cx="315.8" cy="260.8" r="2.9"/><circle cx="370.1" cy="251.0" r="2.9"/><circle cx="291.9" cy="195.8" r="2.9"/><circle cx="338.9" cy="251.9" r="2.9"/><circle cx="302.4" cy="265.2" r="2.9"/><circle cx="252.3" cy="250.3" r="2.9"/><circle cx="319.1" cy="202.2" r="2.9"/><circle cx="298.0" cy="244.1" r="2.9"/><circle cx="318.2" cy="180.4" r="2.9"/><circle cx="276.6" cy="270.9" r="2.9"/><circle cx="309.9" cy="204.6" r="2.9"/><circle cx="353.3" cy="255.4" r="2.9"/><circle cx="320.1" cy="249.7" r="2.9"/><circle cx="343.2" cy="257.2" r="2.9"/><circle cx="265.6" cy="230.3" r="2.9"/><circle cx="271.0" cy="268.9" r="2.9"/><circle cx="366.2" cy="236.6" r="2.9"/><circle cx="299.9" cy="266.3" r="2.9"/><circle cx="281.8" cy="228.3" r="2.9"/><circle cx="332.4" cy="288.4" r="2.9"/><circle cx="294.7" cy="231.3" r="2.9"/><circle cx="321.6" cy="252.2" r="2.9"/><circle cx="306.3" cy="248.3" r="2.9"/><circle cx="301.9" cy="250.0" r="2.9"/><circle cx="322.0" cy="223.4" r="2.9"/><circle cx="333.7" cy="224.6" r="2.9"/><circle cx="260.6" cy="202.5" r="2.9"/><circle cx="330.8" cy="237.5" r="2.9"/><circle cx="336.6" cy="239.1" r="2.9"/><circle cx="315.1" cy="278.2" r="2.9"/><circle cx="361.4" cy="243.1" r="2.9"/><circle cx="279.3" cy="229.2" r="2.9"/><circle cx="259.2" cy="216.2" r="2.9"/><circle cx="278.6" cy="206.1" r="2.9"/><circle cx="340.4" cy="279.9" r="2.9"/><circle cx="281.2" cy="264.0" r="2.9"/><circle cx="264.7" cy="252.5" r="2.9"/><circle cx="311.0" cy="185.8" r="2.9"/><circle cx="332.2" cy="251.1" r="2.9"/><circle cx="288.6" cy="250.3" r="2.9"/><circle cx="328.2" cy="240.7" r="2.9"/><circle cx="309.1" cy="236.1" r="2.9"/><circle cx="310.1" cy="197.3" r="2.9"/><circle cx="282.5" cy="214.0" r="2.9"/><circle cx="328.4" cy="209.9" r="2.9"/><circle cx="287.3" cy="230.1" r="2.9"/><circle cx="349.3" cy="234.2" r="2.9"/><circle cx="319.9" cy="272.8" r="2.9"/><circle cx="364.6" cy="244.6" r="2.9"/><circle cx="296.7" cy="184.4" r="2.9"/><circle cx="308.7" cy="273.4" r="2.9"/><circle cx="251.7" cy="203.8" r="2.9"/><circle cx="339.0" cy="240.5" r="2.9"/><circle cx="340.1" cy="212.5" r="2.9"/><circle cx="282.6" cy="249.5" r="2.9"/><circle cx="347.0" cy="267.6" r="2.9"/><circle cx="240.1" cy="245.3" r="2.9"/><circle cx="321.0" cy="227.4" r="2.9"/><circle cx="270.7" cy="247.9" r="2.9"/><circle cx="332.2" cy="250.6" r="2.9"/><circle cx="361.1" cy="288.9" r="2.9"/><circle cx="324.2" cy="256.6" r="2.9"/><circle cx="353.7" cy="243.8" r="2.9"/><circle cx="315.2" cy="208.7" r="2.9"/><circle cx="314.6" cy="225.6" r="2.9"/><circle cx="342.8" cy="203.0" r="2.9"/><circle cx="309.3" cy="194.9" r="2.9"/><circle cx="246.6" cy="226.1" r="2.9"/><circle cx="249.2" cy="201.8" r="2.9"/><circle cx="288.8" cy="238.8" r="2.9"/><circle cx="297.3" cy="190.7" r="2.9"/><circle cx="322.6" cy="249.6" r="2.9"/><circle cx="326.2" cy="245.0" r="2.9"/><circle cx="297.3" cy="235.7" r="2.9"/><circle cx="245.6" cy="243.4" r="2.9"/><circle cx="312.0" cy="278.7" r="2.9"/><circle cx="347.0" cy="243.0" r="2.9"/><circle cx="318.9" cy="229.3" r="2.9"/><circle cx="296.0" cy="258.0" r="2.9"/><circle cx="285.4" cy="203.1" r="2.9"/><circle cx="302.4" cy="228.3" r="2.9"/><circle cx="243.5" cy="202.9" r="2.9"/><circle cx="241.4" cy="255.4" r="2.9"/><circle cx="322.7" cy="217.9" r="2.9"/><circle cx="323.1" cy="257.6" r="2.9"/><circle cx="332.9" cy="235.2" r="2.9"/><circle cx="302.7" cy="241.3" r="2.9"/><circle cx="328.3" cy="236.8" r="2.9"/><circle cx="303.3" cy="244.5" r="2.9"/><circle cx="325.2" cy="220.0" r="2.9"/><circle cx="261.6" cy="266.8" r="2.9"/><circle cx="326.7" cy="188.2" r="2.9"/><circle cx="290.2" cy="192.0" r="2.9"/><circle cx="272.5" cy="211.3" r="2.9"/><circle cx="327.3" cy="264.8" r="2.9"/><circle cx="307.9" cy="254.2" r="2.9"/><circle cx="280.6" cy="196.6" r="2.9"/><circle cx="273.4" cy="179.1" r="2.9"/><circle cx="345.1" cy="279.4" r="2.9"/><circle cx="280.3" cy="231.2" r="2.9"/><circle cx="335.5" cy="264.4" r="2.9"/><circle cx="284.1" cy="262.8" r="2.9"/><circle cx="334.5" cy="266.0" r="2.9"/><circle cx="263.9" cy="219.6" r="2.9"/><circle cx="356.1" cy="217.7" r="2.9"/><circle cx="301.5" cy="225.5" r="2.9"/><circle cx="283.1" cy="256.0" r="2.9"/><circle cx="356.6" cy="265.3" r="2.9"/><circle cx="334.2" cy="225.4" r="2.9"/><circle cx="276.2" cy="225.1" r="2.9"/><circle cx="261.2" cy="213.7" r="2.9"/><circle cx="299.2" cy="231.2" r="2.9"/><circle cx="252.2" cy="227.1" r="2.9"/><circle cx="265.4" cy="255.9" r="2.9"/><circle cx="272.7" cy="230.3" r="2.9"/><circle cx="357.2" cy="224.4" r="2.9"/><circle cx="291.8" cy="265.6" r="2.9"/><circle cx="298.4" cy="278.9" r="2.9"/><circle cx="313.1" cy="179.2" r="2.9"/><circle cx="356.7" cy="261.0" r="2.9"/><circle cx="325.3" cy="286.5" r="2.9"/><circle cx="262.9" cy="199.9" r="2.9"/><circle cx="329.3" cy="276.6" r="2.9"/><circle cx="358.9" cy="240.3" r="2.9"/><circle cx="311.6" cy="185.5" r="2.9"/><circle cx="243.4" cy="222.1" r="2.9"/><circle cx="340.7" cy="262.0" r="2.9"/><circle cx="337.2" cy="189.9" r="2.9"/><circle cx="294.5" cy="219.8" r="2.9"/><circle cx="284.2" cy="275.8" r="2.9"/><circle cx="320.7" cy="285.4" r="2.9"/><circle cx="296.8" cy="234.6" r="2.9"/><circle cx="288.6" cy="227.7" r="2.9"/><circle cx="262.7" cy="217.9" r="2.9"/><circle cx="289.7" cy="271.9" r="2.9"/><circle cx="294.7" cy="250.3" r="2.9"/><circle cx="324.3" cy="280.2" r="2.9"/><circle cx="313.5" cy="212.1" r="2.9"/><circle cx="321.7" cy="280.6" r="2.9"/><circle cx="355.3" cy="246.7" r="2.9"/><circle cx="324.1" cy="221.1" r="2.9"/><circle cx="323.6" cy="234.9" r="2.9"/><circle cx="291.3" cy="212.4" r="2.9"/><circle cx="301.0" cy="262.3" r="2.9"/><circle cx="313.0" cy="279.3" r="2.9"/><circle cx="343.2" cy="283.8" r="2.9"/><circle cx="317.5" cy="245.6" r="2.9"/><circle cx="311.5" cy="243.0" r="2.9"/><circle cx="269.0" cy="253.3" r="2.9"/><circle cx="349.8" cy="231.0" r="2.9"/><circle cx="293.0" cy="266.7" r="2.9"/><circle cx="339.0" cy="266.1" r="2.9"/><circle cx="275.8" cy="286.6" r="2.9"/><circle cx="362.3" cy="235.4" r="2.9"/><circle cx="294.3" cy="222.3" r="2.9"/><circle cx="318.6" cy="245.3" r="2.9"/><circle cx="337.5" cy="241.9" r="2.9"/><circle cx="328.5" cy="253.0" r="2.9"/><circle cx="291.0" cy="249.9" r="2.9"/><circle cx="282.2" cy="266.7" r="2.9"/><circle cx="302.9" cy="215.3" r="2.9"/><circle cx="262.9" cy="217.7" r="2.9"/><circle cx="365.8" cy="258.3" r="2.9"/><circle cx="307.2" cy="265.1" r="2.9"/><circle cx="354.6" cy="216.3" r="2.9"/><circle cx="257.1" cy="230.7" r="2.9"/><circle cx="301.1" cy="209.6" r="2.9"/><circle cx="335.9" cy="285.4" r="2.9"/><circle cx="306.6" cy="250.0" r="2.9"/><circle cx="279.8" cy="275.2" r="2.9"/><circle cx="308.4" cy="271.9" r="2.9"/><circle cx="369.9" cy="221.3" r="2.9"/><circle cx="357.3" cy="218.9" r="2.9"/><circle cx="322.8" cy="245.9" r="2.9"/><circle cx="256.0" cy="223.6" r="2.9"/><circle cx="354.0" cy="188.0" r="2.9"/><circle cx="344.7" cy="238.1" r="2.9"/><circle cx="312.0" cy="221.0" r="2.9"/><circle cx="278.1" cy="253.8" r="2.9"/><circle cx="324.0" cy="243.2" r="2.9"/><circle cx="286.4" cy="223.4" r="2.9"/><circle cx="348.8" cy="206.8" r="2.9"/><circle cx="352.2" cy="245.9" r="2.9"/><circle cx="344.2" cy="239.1" r="2.9"/><circle cx="284.3" cy="237.9" r="2.9"/><circle cx="345.8" cy="201.3" r="2.9"/><circle cx="289.5" cy="185.2" r="2.9"/><circle cx="336.9" cy="278.9" r="2.9"/><circle cx="332.5" cy="180.2" r="2.9"/><circle cx="333.5" cy="225.9" r="2.9"/><circle cx="344.0" cy="279.1" r="2.9"/><circle cx="306.9" cy="221.6" r="2.9"/><circle cx="282.6" cy="276.1" r="2.9"/><circle cx="348.7" cy="194.7" r="2.9"/><circle cx="321.1" cy="290.3" r="2.9"/><circle cx="266.0" cy="254.4" r="2.9"/><circle cx="266.3" cy="220.8" r="2.9"/><circle cx="271.3" cy="270.8" r="2.9"/><circle cx="340.5" cy="236.2" r="2.9"/><circle cx="256.7" cy="260.9" r="2.9"/><circle cx="253.0" cy="195.4" r="2.9"/><circle cx="293.4" cy="267.8" r="2.9"/><circle cx="340.2" cy="252.7" r="2.9"/><circle cx="301.2" cy="247.0" r="2.9"/><circle cx="267.1" cy="250.3" r="2.9"/><circle cx="276.1" cy="289.8" r="2.9"/><circle cx="329.4" cy="264.4" r="2.9"/><circle cx="298.6" cy="243.6" r="2.9"/><circle cx="307.5" cy="243.6" r="2.9"/><circle cx="338.1" cy="223.8" r="2.9"/><circle cx="257.1" cy="226.9" r="2.9"/><circle cx="294.4" cy="253.7" r="2.9"/><circle cx="302.4" cy="233.1" r="2.9"/><circle cx="368.5" cy="214.9" r="2.9"/><circle cx="357.9" cy="217.3" r="2.9"/><circle cx="288.7" cy="252.1" r="2.9"/><circle cx="254.8" cy="203.6" r="2.9"/><circle cx="317.9" cy="276.9" r="2.9"/><circle cx="298.6" cy="249.6" r="2.9"/><circle cx="268.9" cy="229.8" r="2.9"/><circle cx="320.0" cy="254.8" r="2.9"/><circle cx="308.5" cy="211.1" r="2.9"/><circle cx="261.5" cy="216.4" r="2.9"/><circle cx="315.0" cy="209.6" r="2.9"/><circle cx="305.1" cy="267.7" r="2.9"/><circle cx="327.5" cy="265.8" r="2.9"/><circle cx="332.7" cy="240.2" r="2.9"/><circle cx="263.5" cy="220.3" r="2.9"/><circle cx="254.0" cy="258.7" r="2.9"/><circle cx="324.6" cy="256.5" r="2.9"/><circle cx="250.7" cy="226.7" r="2.9"/><circle cx="312.9" cy="230.6" r="2.9"/><circle cx="326.5" cy="185.7" r="2.9"/><circle cx="247.9" cy="233.4" r="2.9"/><circle cx="348.8" cy="215.0" r="2.9"/><circle cx="354.4" cy="254.9" r="2.9"/><circle cx="352.9" cy="199.0" r="2.9"/><circle cx="339.9" cy="270.7" r="2.9"/><circle cx="299.2" cy="187.2" r="2.9"/><circle cx="345.3" cy="258.1" r="2.9"/><circle cx="286.0" cy="267.2" r="2.9"/><circle cx="307.0" cy="257.0" r="2.9"/><circle cx="309.8" cy="202.1" r="2.9"/><circle cx="273.8" cy="203.6" r="2.9"/><circle cx="330.5" cy="283.6" r="2.9"/><circle cx="257.4" cy="219.2" r="2.9"/><circle cx="326.7" cy="260.1" r="2.9"/><circle cx="302.2" cy="283.6" r="2.9"/><circle cx="352.0" cy="240.9" r="2.9"/><circle cx="326.8" cy="285.4" r="2.9"/><circle cx="356.1" cy="279.5" r="2.9"/><circle cx="299.7" cy="225.7" r="2.9"/><circle cx="356.3" cy="220.2" r="2.9"/><circle cx="350.9" cy="269.7" r="2.9"/><circle cx="355.3" cy="251.2" r="2.9"/><circle cx="312.1" cy="261.4" r="2.9"/><circle cx="304.9" cy="212.2" r="2.9"/><circle cx="359.8" cy="261.4" r="2.9"/><circle cx="302.7" cy="245.6" r="2.9"/><circle cx="341.7" cy="203.4" r="2.9"/><circle cx="277.2" cy="218.2" r="2.9"/><circle cx="293.5" cy="234.0" r="2.9"/><circle cx="303.1" cy="242.1" r="2.9"/><circle cx="297.7" cy="260.3" r="2.9"/><circle cx="279.2" cy="236.7" r="2.9"/><circle cx="338.5" cy="234.2" r="2.9"/><circle cx="206.8" cy="119.3" r="2.9"/><circle cx="249.2" cy="155.7" r="2.9"/><circle cx="235.6" cy="163.7" r="2.9"/><circle cx="239.6" cy="169.0" r="2.9"/><circle cx="228.2" cy="178.9" r="2.9"/><circle cx="224.4" cy="181.4" r="2.9"/><circle cx="230.5" cy="186.2" r="2.9"/><circle cx="223.9" cy="189.0" r="2.9"/><circle cx="233.5" cy="191.5" r="2.9"/><circle cx="245.9" cy="179.6" r="2.9"/><circle cx="242.9" cy="184.7" r="2.9"/><circle cx="247.9" cy="184.0" r="2.9"/><circle cx="185.6" cy="193.8" r="2.9"/><circle cx="179.0" cy="198.8" r="2.9"/><circle cx="188.6" cy="200.1" r="2.9"/><circle cx="192.6" cy="206.7" r="2.9"/><circle cx="220.9" cy="199.6" r="2.9"/><circle cx="226.5" cy="200.4" r="2.9"/><circle cx="241.6" cy="197.3" r="2.9"/><circle cx="243.6" cy="200.6" r="2.9"/><circle cx="214.3" cy="205.2" r="2.9"/><circle cx="203.0" cy="208.2" r="2.9"/><circle cx="220.9" cy="210.7" r="2.9"/><circle cx="234.5" cy="207.7" r="2.9"/><circle cx="241.1" cy="204.9" r="2.9"/><circle cx="241.6" cy="210.0" r="2.9"/><circle cx="133.0" cy="213.0" r="2.9"/><circle cx="209.8" cy="213.7" r="2.9"/><circle cx="112.3" cy="233.6" r="2.9"/><circle cx="132.5" cy="247.2" r="2.9"/><circle cx="179.5" cy="240.4" r="2.9"/><circle cx="180.5" cy="260.6" r="2.9"/><circle cx="189.8" cy="222.2" r="2.9"/><circle cx="189.3" cy="227.0" r="2.9"/><circle cx="176.7" cy="295.0" r="2.9"/><circle cx="200.0" cy="245.0" r="2.9"/><circle cx="208.3" cy="253.5" r="2.9"/><circle cx="218.9" cy="322.1" r="2.9"/><circle cx="235.3" cy="320.1" r="2.9"/><circle cx="227.0" cy="310.8" r="2.9"/><circle cx="240.4" cy="312.5" r="2.9"/><circle cx="274.6" cy="110.2" r="2.9"/><circle cx="274.1" cy="133.7" r="2.9"/><circle cx="343.8" cy="125.6" r="2.9"/><circle cx="314.0" cy="143.3" r="2.9"/><circle cx="322.3" cy="140.8" r="2.9"/><circle cx="325.9" cy="146.3" r="2.9"/><circle cx="328.1" cy="152.1" r="2.9"/><circle cx="330.7" cy="158.2" r="2.9"/><circle cx="336.0" cy="161.0" r="2.9"/><circle cx="259.2" cy="155.2" r="2.9"/><circle cx="277.1" cy="156.7" r="2.9"/><circle cx="285.5" cy="160.0" r="2.9"/><circle cx="291.8" cy="157.7" r="2.9"/><circle cx="296.6" cy="166.5" r="2.9"/><circle cx="305.2" cy="167.5" r="2.9"/><circle cx="312.2" cy="168.3" r="2.9"/><circle cx="313.7" cy="170.8" r="2.9"/><circle cx="277.9" cy="170.3" r="2.9"/><circle cx="259.7" cy="168.8" r="2.9"/><circle cx="256.7" cy="172.1" r="2.9"/><circle cx="283.4" cy="176.4" r="2.9"/><circle cx="365.8" cy="172.1" r="2.9"/><circle cx="338.5" cy="174.8" r="2.9"/><circle cx="353.1" cy="175.9" r="2.9"/><circle cx="342.0" cy="179.9" r="2.9"/><circle cx="351.1" cy="180.9" r="2.9"/><circle cx="357.4" cy="182.7" r="2.9"/><circle cx="375.1" cy="181.7" r="2.9"/><circle cx="366.0" cy="189.2" r="2.9"/><circle cx="388.2" cy="199.6" r="2.9"/><circle cx="399.3" cy="205.2" r="2.9"/><circle cx="381.4" cy="207.4" r="2.9"/><circle cx="369.5" cy="201.1" r="2.9"/><circle cx="366.3" cy="204.1" r="2.9"/><circle cx="374.6" cy="176.3" r="2.9"/><circle cx="345.1" cy="189.1" r="2.9"/><circle cx="356.4" cy="190.9" r="2.9"/><circle cx="357.7" cy="195.5" r="2.9"/><circle cx="380.4" cy="213.1" r="2.9"/><circle cx="384.9" cy="213.9" r="2.9"/><circle cx="392.5" cy="212.1" r="2.9"/><circle cx="430.4" cy="214.9" r="2.9"/><circle cx="425.1" cy="216.9" r="2.9"/><circle cx="406.2" cy="217.4" r="2.9"/><circle cx="398.6" cy="221.2" r="2.9"/><circle cx="403.9" cy="225.0" r="2.9"/><circle cx="422.1" cy="230.3" r="2.9"/><circle cx="418.3" cy="231.8" r="2.9"/><circle cx="399.6" cy="232.6" r="2.9"/><circle cx="401.1" cy="237.6" r="2.9"/><circle cx="383.4" cy="232.6" r="2.9"/><circle cx="379.1" cy="225.0" r="2.9"/><circle cx="377.9" cy="231.3" r="2.9"/><circle cx="378.4" cy="237.9" r="2.9"/><circle cx="395.1" cy="242.2" r="2.9"/><circle cx="384.2" cy="242.2" r="2.9"/><circle cx="410.7" cy="241.7" r="2.9"/><circle cx="414.5" cy="240.2" r="2.9"/><circle cx="448.8" cy="247.2" r="2.9"/><circle cx="406.2" cy="253.5" r="2.9"/><circle cx="391.8" cy="248.5" r="2.9"/><circle cx="396.8" cy="252.3" r="2.9"/><circle cx="400.6" cy="261.1" r="2.9"/><circle cx="395.6" cy="262.4" r="2.9"/><circle cx="407.7" cy="264.9" r="2.9"/><circle cx="386.0" cy="266.2" r="2.9"/><circle cx="394.3" cy="268.2" r="2.9"/><circle cx="421.3" cy="270.6" r="2.9"/><circle cx="422.8" cy="300.9" r="2.9"/><circle cx="427.9" cy="309.2" r="2.9"/><circle cx="412.0" cy="294.1" r="2.9"/><circle cx="409.4" cy="297.9" r="2.9"/><circle cx="409.2" cy="314.3" r="2.9"/><circle cx="383.4" cy="315.1" r="2.9"/><circle cx="405.7" cy="324.9" r="2.9"/><circle cx="401.9" cy="282.7" r="2.9"/><circle cx="394.3" cy="286.5" r="2.9"/><circle cx="388.0" cy="282.2" r="2.9"/><circle cx="372.3" cy="304.9" r="2.9"/><circle cx="360.7" cy="308.0" r="2.9"/><circle cx="343.8" cy="334.0" r="2.9"/><circle cx="341.5" cy="317.1" r="2.9"/><circle cx="335.5" cy="334.5" r="2.9"/><circle cx="341.0" cy="338.5" r="2.9"/><circle cx="312.7" cy="334.7" r="2.9"/><circle cx="310.7" cy="326.4" r="2.9"/><circle cx="320.3" cy="315.1" r="2.9"/><circle cx="305.7" cy="319.6" r="2.9"/><circle cx="310.7" cy="316.3" r="2.9"/><circle cx="295.1" cy="329.7" r="2.9"/><circle cx="266.0" cy="327.2" r="2.9"/><circle cx="277.9" cy="315.6" r="2.9"/><circle cx="257.7" cy="313.0" r="2.9"/><circle cx="251.0" cy="182.3" r="2.9"/><circle cx="262.6" cy="184.0" r="2.9"/><circle cx="256.1" cy="189.0" r="2.9"/><circle cx="254.5" cy="191.3" r="2.9"/><circle cx="252.0" cy="193.5" r="2.9"/><circle cx="257.6" cy="191.9" r="2.9"/><circle cx="259.5" cy="203.4" r="2.9"/><circle cx="263.2" cy="197.5" r="2.9"/><circle cx="252.0" cy="211.3" r="2.9"/><circle cx="262.0" cy="209.4" r="2.9"/><circle cx="220.1" cy="217.8" r="2.9"/><circle cx="202.2" cy="216.7" r="2.9"/><circle cx="245.7" cy="216.3" r="2.9"/><circle cx="238.2" cy="220.0" r="2.9"/><circle cx="250.0" cy="217.5" r="2.9"/><circle cx="204.2" cy="224.8" r="2.9"/><circle cx="208.5" cy="231.5" r="2.9"/><circle cx="211.9" cy="236.5" r="2.9"/><circle cx="228.8" cy="224.8" r="2.9"/><circle cx="241.3" cy="221.3" r="2.9"/><circle cx="233.2" cy="230.6" r="2.9"/><circle cx="230.1" cy="233.8" r="2.9"/><circle cx="224.8" cy="247.5" r="2.9"/><circle cx="215.0" cy="261.1" r="2.9"/><circle cx="217.5" cy="258.8" r="2.9"/><circle cx="220.7" cy="259.4" r="2.9"/><circle cx="223.8" cy="258.2" r="2.9"/><circle cx="220.0" cy="262.3" r="2.9"/><circle cx="235.9" cy="252.5" r="2.9"/><circle cx="242.6" cy="251.3" r="2.9"/><circle cx="248.5" cy="245.7" r="2.9"/><circle cx="243.2" cy="258.2" r="2.9"/><circle cx="240.1" cy="266.3" r="2.9"/><circle cx="241.3" cy="270.1" r="2.9"/><circle cx="232.6" cy="273.2" r="2.9"/><circle cx="249.5" cy="270.1" r="2.9"/><circle cx="244.5" cy="238.8" r="2.9"/><circle cx="233.8" cy="240.7" r="2.9"/><circle cx="214.0" cy="279.0" r="2.9"/><circle cx="233.2" cy="279.0" r="2.9"/><circle cx="230.4" cy="286.9" r="2.9"/><circle cx="222.2" cy="291.9" r="2.9"/><circle cx="244.5" cy="279.8" r="2.9"/><circle cx="248.6" cy="290.0" r="2.9"/><circle cx="245.1" cy="292.5" r="2.9"/><circle cx="242.0" cy="294.7" r="2.9"/><circle cx="233.8" cy="304.0" r="2.9"/><circle cx="240.7" cy="308.2" r="2.9"/><circle cx="256.6" cy="302.3" r="2.9"/><circle cx="260.1" cy="310.7" r="2.9"/><circle cx="263.2" cy="298.2" r="2.9"/><circle cx="295.1" cy="283.0" r="2.9"/><circle cx="301.3" cy="286.8" r="2.9"/><circle cx="310.1" cy="288.7" r="2.9"/><circle cx="318.2" cy="288.7" r="2.9"/><circle cx="268.8" cy="292.7" r="2.9"/><circle cx="276.3" cy="300.5" r="2.9"/><circle cx="283.2" cy="295.5" r="2.9"/><circle cx="285.7" cy="299.3" r="2.9"/><circle cx="291.3" cy="294.9" r="2.9"/><circle cx="298.2" cy="296.2" r="2.9"/><circle cx="296.9" cy="301.2" r="2.9"/><circle cx="306.3" cy="294.9" r="2.9"/><circle cx="315.1" cy="294.3" r="2.9"/><circle cx="311.3" cy="301.2" r="2.9"/><circle cx="315.1" cy="299.3" r="2.9"/><circle cx="330.7" cy="291.2" r="2.9"/><circle cx="330.1" cy="296.2" r="2.9"/><circle cx="270.0" cy="310.6" r="2.9"/><circle cx="273.2" cy="311.6" r="2.9"/><circle cx="308.8" cy="313.9" r="2.9"/><circle cx="372.5" cy="273.0" r="2.9"/><circle cx="383.8" cy="275.8" r="2.9"/><circle cx="391.3" cy="275.5" r="2.9"/><circle cx="393.8" cy="271.8" r="2.9"/><circle cx="350.0" cy="277.4" r="2.9"/><circle cx="355.7" cy="279.9" r="2.9"/><circle cx="358.8" cy="280.5" r="2.9"/><circle cx="363.5" cy="281.1" r="2.9"/><circle cx="347.5" cy="283.6" r="2.9"/><circle cx="344.4" cy="285.5" r="2.9"/><circle cx="353.1" cy="287.4" r="2.9"/><circle cx="363.5" cy="287.4" r="2.9"/><circle cx="375.3" cy="286.1" r="2.9"/><circle cx="382.3" cy="288.0" r="2.9"/><circle cx="337.5" cy="286.8" r="2.9"/><circle cx="340.0" cy="290.5" r="2.9"/><circle cx="343.8" cy="295.8" r="2.9"/><circle cx="349.0" cy="296.2" r="2.9"/><circle cx="339.8" cy="300.5" r="2.9"/><circle cx="343.1" cy="302.4" r="2.9"/><circle cx="335.6" cy="306.2" r="2.9"/><circle cx="367.5" cy="297.8" r="2.9"/><circle cx="372.2" cy="298.4" r="2.9"/><circle cx="336.0" cy="279.0" r="2.9"/></g>
<line x1="24.5" y1="379.4" x2="568.5" y2="70.2" stroke="#10b04f" stroke-width="2.4" stroke-linecap="round"/>
<circle cx="24.5" cy="379.4" r="2.9" fill="#9bbb59"/><circle cx="568.5" cy="70.2" r="2.9" fill="#9bbb59"/>
<g font-family="'Liberation Sans', sans-serif" font-size="9.7" fill="#000"><text x="24.5" y="242" text-anchor="middle">-0,80</text><text x="92.5" y="242" text-anchor="middle">-0,60</text><text x="160.5" y="242" text-anchor="middle">-0,40</text><text x="228.5" y="242" text-anchor="middle">-0,20</text><text x="296.5" y="242" text-anchor="middle">0,00</text><text x="364.5" y="242" text-anchor="middle">0,20</text><text x="432.5" y="242" text-anchor="middle">0,40</text><text x="500.5" y="242" text-anchor="middle">0,60</text><text x="568.5" y="242" text-anchor="middle">0,80</text><text x="286.4" y="47.7" text-anchor="end">$ 6.000</text><text x="286.4" y="107.7" text-anchor="end">$ 4.000</text><text x="286.4" y="167.7" text-anchor="end">$ 2.000</text><text x="286.4" y="227.7" text-anchor="end">$ 0</text><text x="286.4" y="287.7" text-anchor="end">-$ 2.000</text><text x="286.4" y="347.7" text-anchor="end">-$ 4.000</text><text x="286.4" y="407.7" text-anchor="end">-$ 6.000</text><text x="286.4" y="467.7" text-anchor="end">-$ 8.000</text></g>
<g font-family="'Liberation Serif', serif" font-size="16.5" fill="#000">
<text x="280.5" y="12" text-anchor="middle">PSA(1.000 Monte Carlo Simulations)</text>
<text x="281.3" y="30.2" text-anchor="middle">Incremental Cost per QALY</text>
<text transform="translate(12.6,249) rotate(-90)" text-anchor="middle" style="white-space:pre">Incremental Cost  (USD)</text>
<text x="290" y="492" text-anchor="middle" font-size="17" letter-spacing="-0.6" word-spacing="-2">Incremental QALY</text>
</g>
<circle cx="599.5" cy="241.5" r="2.9" fill="#4f81bd"/><circle cx="599.5" cy="265" r="2.9" fill="#c0504d"/><circle cx="599.5" cy="288.5" r="2.9" fill="#9bbb59"/>
<g fill="#000">
<text x="607.5" y="242.4" font-family="'Liberation Sans', sans-serif" font-size="13">Oncotype</text>
<text x="607.5" y="265.8" font-family="'Liberation Sans', sans-serif" font-size="13" letter-spacing="0.65">Mammaprint</text>
<text x="607.5" y="289.7" font-family="'Liberation Serif', serif" font-size="13.7">$6443/QALY</text>
<text x="607.5" y="312.9" font-family="'Liberation Serif', serif" font-size="14.5">threshold</text>
</g>
</svg></body></html>
